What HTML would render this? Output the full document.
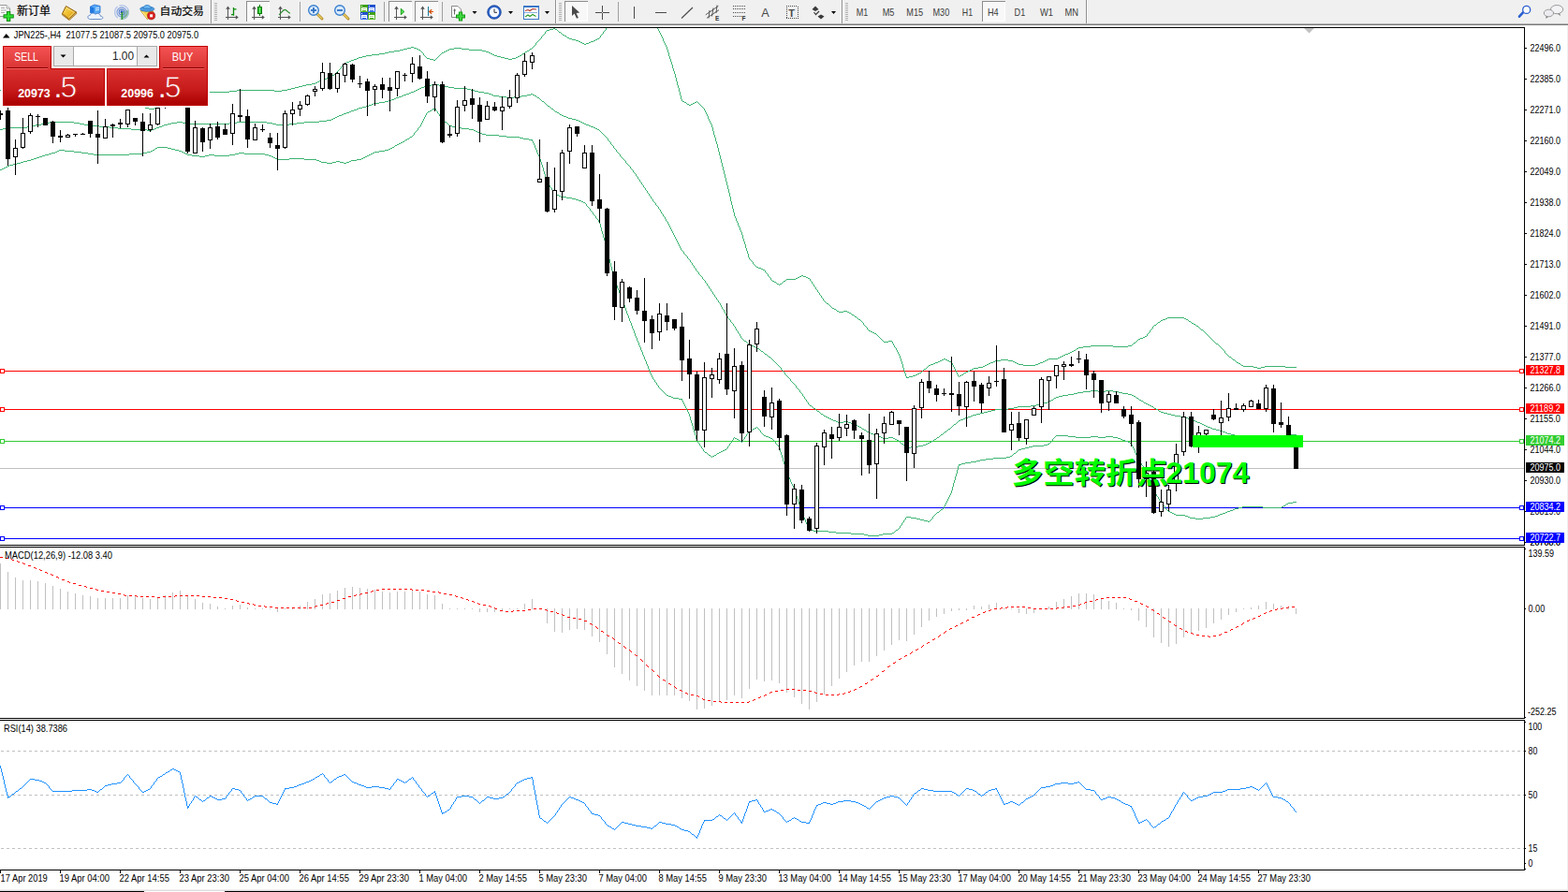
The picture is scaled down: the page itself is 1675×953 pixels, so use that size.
<!DOCTYPE html>
<html><head><meta charset="utf-8"><title>JPN225 H4</title>
<style>
html,body{margin:0;padding:0;background:#fff;width:1675px;height:953px;overflow:hidden}
svg{display:block;position:absolute;left:0;top:0}
text{font-family:"Liberation Sans","Noto Sans CJK SC",sans-serif;white-space:pre}
</style></head><body>
<svg width="1675" height="953" viewBox="0 0 1675 953">
<rect x="0" y="0" width="1675" height="953" fill="#fff" />
<g shape-rendering="crispEdges">
<rect x="0" y="500" width="1628" height="1" fill="#c0c0c0" />
<rect x="0" y="396" width="1628" height="1" fill="#ff0000" />
<rect x="0" y="394" width="5" height="5" fill="#ff0000" />
<rect x="1" y="395" width="3" height="3" fill="#fff" />
<rect x="1623" y="394" width="5" height="5" fill="#ff0000" />
<rect x="1624" y="395" width="3" height="3" fill="#fff" />
<rect x="0" y="437" width="1628" height="1" fill="#ff0000" />
<rect x="0" y="435" width="5" height="5" fill="#ff0000" />
<rect x="1" y="436" width="3" height="3" fill="#fff" />
<rect x="1623" y="435" width="5" height="5" fill="#ff0000" />
<rect x="1624" y="436" width="3" height="3" fill="#fff" />
<rect x="0" y="471" width="1628" height="1" fill="#32cd32" />
<rect x="0" y="469" width="5" height="5" fill="#32cd32" />
<rect x="1" y="470" width="3" height="3" fill="#fff" />
<rect x="1623" y="469" width="5" height="5" fill="#32cd32" />
<rect x="1624" y="470" width="3" height="3" fill="#fff" />
<rect x="0" y="542" width="1628" height="1" fill="#0000ff" />
<rect x="0" y="540" width="5" height="5" fill="#0000ff" />
<rect x="1" y="541" width="3" height="3" fill="#fff" />
<rect x="1623" y="540" width="5" height="5" fill="#0000ff" />
<rect x="1624" y="541" width="3" height="3" fill="#fff" />
<rect x="0" y="575" width="1628" height="1" fill="#0000ff" />
<rect x="0" y="573" width="5" height="5" fill="#0000ff" />
<rect x="1" y="574" width="3" height="3" fill="#fff" />
<rect x="1623" y="573" width="5" height="5" fill="#0000ff" />
<rect x="1624" y="574" width="3" height="3" fill="#fff" />
</g>
<g shape-rendering="crispEdges">
<path d="M461 90.5h8M455 91.5h6M469 91.5h6M453 92.5h2M475 92.5h4M450 93.5h3M479 93.5h6M448 94.5h2M485 94.5h14M446 95.5h2M499 95.5h4M444 96.5h2M503 96.5h4M442 97.5h2M507 97.5h4M439 98.5h3M511 98.5h6M437 99.5h2M517 99.5h5M434 100.5h3M522 100.5h3M567 100.5h2M431 101.5h3M525 101.5h2M563 101.5h4M569 101.5h2M429 102.5h2M527 102.5h6M557 102.5h6M571 102.5h2M426 103.5h3M533 103.5h8M549 103.5h8M573 103.5h1M423 104.5h3M541 104.5h8M574 104.5h2M421 105.5h2M576 105.5h1M418 106.5h3M577 106.5h1M415 107.5h3M578 107.5h1M411 108.5h4M579 108.5h2M405 109.5h6M581 109.5h1M399 110.5h6M582 110.5h1M397 111.5h2M583 111.5h1M394 112.5h3M584 112.5h1M391 113.5h3M585 113.5h2M387 114.5h4M587 114.5h1M383 115.5h4M588 115.5h1M381 116.5h2M589 116.5h2M378 117.5h3M591 117.5h1M375 118.5h3M592 118.5h1M373 119.5h2M593 119.5h2M370 120.5h3M595 120.5h2M367 121.5h3M597 121.5h1M365 122.5h2M598 122.5h2M362 123.5h3M600 123.5h2M360 124.5h2M602 124.5h3M358 125.5h2M605 125.5h2M356 126.5h2M607 126.5h4M354 127.5h2M611 127.5h4M349 128.5h5M615 128.5h3M341 129.5h8M618 129.5h2M53 130.5h26M189 130.5h6M253 130.5h32M325 130.5h16M620 130.5h2M49 131.5h4M79 131.5h6M183 131.5h6M195 131.5h4M245 131.5h8M285 131.5h6M317 131.5h8M622 131.5h2M44 132.5h5M85 132.5h5M179 132.5h4M199 132.5h46M291 132.5h4M309 132.5h8M624 132.5h2M38 133.5h6M90 133.5h7M175 133.5h4M295 133.5h14M626 133.5h3M33 134.5h5M97 134.5h9M173 134.5h2M629 134.5h2M29 135.5h4M106 135.5h11M170 135.5h3M631 135.5h3M9 136.5h20M117 136.5h9M167 136.5h3M634 136.5h2M3 137.5h6M126 137.5h14M165 137.5h2M636 137.5h2M0 138.5h3M140 138.5h17M162 138.5h3M638 138.5h2M157 139.5h5M640 139.5h1M641 140.5h1M642 141.5h1M643 142.5h1M644 143.5h1M645 144.5h1M646 145.5h1M647 146.5h1M648 147.5h1M649 148.5h1M649 149.5h1M650 150.5h1M651 151.5h1M652 152.5h1M652 153.5h1M653 154.5h1M654 155.5h1M655 156.5h1M655 157.5h1M656 158.5h1M657 159.5h1M658 160.5h1M658 161.5h1M659 162.5h1M660 163.5h1M661 164.5h1M662 165.5h1M662 166.5h1M663 167.5h1M664 168.5h1M665 169.5h1M666 170.5h1M667 171.5h1M668 172.5h1M668 173.5h1M669 174.5h1M670 175.5h1M671 176.5h1M672 177.5h1M673 178.5h1M673 179.5h1M674 180.5h1M675 181.5h1M676 182.5h1M676 183.5h1M677 184.5h1M678 185.5h1M679 186.5h1M679 187.5h1M680 188.5h1M681 189.5h1M681 190.5h1M682 191.5h1M683 192.5h1M683 193.5h1M684 194.5h1M685 195.5h1M685 196.5h1M686 197.5h1M687 198.5h1M687 199.5h1M688 200.5h1M689 201.5h1M689 202.5h1M690 203.5h1M691 204.5h1M691 205.5h1M692 206.5h1M693 207.5h1M693 208.5h1M694 209.5h1M695 210.5h1M695 211.5h1M696 212.5h1M697 213.5h1M697 214.5h1M698 215.5h1M699 216.5h1M700 217.5h1M700 218.5h1M701 219.5h1M702 220.5h1M703 221.5h1M703 222.5h1M704 223.5h1M705 224.5h1M705 225.5h1M706 226.5h1M706 227.5h1M707 228.5h1M708 229.5h1M708 230.5h1M709 231.5h1M710 232.5h1M710 233.5h1M711 234.5h1M711 235.5h1M712 236.5h1M713 237.5h1M713 238.5h1M714 239.5h1M714 240.5h1M715 241.5h1M715 242.5h1M716 243.5h1M716 244.5h1M717 245.5h1M717 246.5h1M718 247.5h1M718 248.5h1M719 249.5h1M719 250.5h1M720 251.5h1M720 252.5h1M721 253.5h1M721 254.5h1M722 255.5h1M722 256.5h1M723 257.5h1M723 258.5h1M724 259.5h1M724 260.5h1M725 261.5h1M725 262.5h1M726 263.5h1M726 264.5h1M727 265.5h1M727 266.5h1M728 267.5h1M729 268.5h1M730 269.5h1M730 270.5h1M731 271.5h1M732 272.5h1M733 273.5h1M734 274.5h1M734 275.5h1M735 276.5h1M736 277.5h1M737 278.5h1M737 279.5h1M738 280.5h1M739 281.5h1M739 282.5h1M740 283.5h1M741 284.5h1M741 285.5h1M742 286.5h1M743 287.5h1M743 288.5h1M744 289.5h1M745 290.5h1M746 291.5h1M746 292.5h1M747 293.5h1M748 294.5h1M749 295.5h1M750 296.5h1M750 297.5h1M751 298.5h1M752 299.5h1M753 300.5h1M753 301.5h1M754 302.5h1M755 303.5h1M755 304.5h1M756 305.5h1M757 306.5h1M757 307.5h1M758 308.5h1M759 309.5h1M759 310.5h1M760 311.5h1M761 312.5h1M761 313.5h1M762 314.5h1M763 315.5h1M763 316.5h1M764 317.5h1M765 318.5h1M765 319.5h1M766 320.5h1M767 321.5h1M767 322.5h1M768 323.5h1M769 324.5h1M769 325.5h1M770 326.5h1M770 327.5h1M771 328.5h1M771 329.5h1M772 330.5h1M773 331.5h1M773 332.5h1M774 333.5h1M774 334.5h1M775 335.5h1M775 336.5h1M776 337.5h1M777 338.5h1M777 339.5h1M778 340.5h1M779 341.5h1M780 342.5h1M780 343.5h1M781 344.5h1M782 345.5h1M783 346.5h1M783 347.5h1M784 348.5h1M785 349.5h1M785 350.5h1M786 351.5h1M786 352.5h1M787 353.5h1M788 354.5h1M788 355.5h1M789 356.5h1M790 357.5h1M790 358.5h1M791 359.5h1M791 360.5h1M792 361.5h1M793 362.5h1M794 363.5h1M795 364.5h2M797 365.5h1M798 366.5h1M799 367.5h1M800 368.5h2M802 369.5h3M805 370.5h2M807 371.5h2M809 372.5h2M811 373.5h1M812 374.5h1M813 375.5h2M815 376.5h1M816 377.5h1M817 378.5h2M819 379.5h1M820 380.5h1M821 381.5h2M823 382.5h1M824 383.5h1M825 384.5h1M826 385.5h1M827 386.5h1M828 387.5h1M829 388.5h1M830 389.5h1M831 390.5h1M832 391.5h1M833 392.5h1M834 393.5h1M834 394.5h1M835 395.5h1M836 396.5h1M837 397.5h1M838 398.5h1M838 399.5h1M839 400.5h1M840 401.5h1M841 402.5h1M842 403.5h1M843 404.5h1M844 405.5h1M844 406.5h1M845 407.5h1M846 408.5h1M847 409.5h1M848 410.5h1M849 411.5h1M850 412.5h1M850 413.5h1M851 414.5h1M852 415.5h1M853 416.5h1M854 417.5h1M1165 417.5h8M1181 417.5h8M854 418.5h1M1157 418.5h8M1173 418.5h8M1189 418.5h6M855 419.5h1M1151 419.5h6M1195 419.5h4M856 420.5h1M1147 420.5h4M1199 420.5h6M857 421.5h1M1141 421.5h6M1205 421.5h4M857 422.5h1M1135 422.5h6M1209 422.5h2M858 423.5h1M1131 423.5h4M1211 423.5h2M859 424.5h1M1128 424.5h3M1213 424.5h1M859 425.5h1M1126 425.5h2M1214 425.5h2M860 426.5h1M1125 426.5h1M1216 426.5h1M861 427.5h1M1123 427.5h2M1217 427.5h2M861 428.5h1M1121 428.5h2M1219 428.5h2M862 429.5h1M1119 429.5h2M1221 429.5h1M863 430.5h1M1115 430.5h4M1222 430.5h2M863 431.5h1M1111 431.5h4M1224 431.5h2M864 432.5h1M1107 432.5h4M1226 432.5h2M865 433.5h2M1101 433.5h6M1228 433.5h2M867 434.5h1M1087 434.5h14M1230 434.5h2M868 435.5h1M1083 435.5h4M1232 435.5h1M869 436.5h2M1077 436.5h6M1233 436.5h2M871 437.5h1M1063 437.5h14M1235 437.5h2M872 438.5h1M1059 438.5h4M1237 438.5h1M873 439.5h2M1055 439.5h4M1238 439.5h2M875 440.5h1M1051 440.5h4M1240 440.5h3M876 441.5h1M1047 441.5h4M1243 441.5h4M877 442.5h2M1043 442.5h4M1247 442.5h4M879 443.5h1M1039 443.5h4M1251 443.5h4M880 444.5h2M1037 444.5h2M1255 444.5h6M882 445.5h2M1034 445.5h3M1261 445.5h5M884 446.5h2M1031 446.5h3M1266 446.5h3M886 447.5h2M1029 447.5h2M1269 447.5h2M888 448.5h2M1026 448.5h3M1271 448.5h3M890 449.5h3M1024 449.5h2M1274 449.5h3M893 450.5h2M901 450.5h5M1023 450.5h1M1277 450.5h2M895 451.5h6M906 451.5h3M1022 451.5h1M1279 451.5h3M909 452.5h2M1021 452.5h1M1282 452.5h2M911 453.5h3M1019 453.5h2M1284 453.5h2M914 454.5h2M1018 454.5h1M1286 454.5h2M916 455.5h2M1017 455.5h1M1288 455.5h2M918 456.5h2M1016 456.5h1M1290 456.5h3M920 457.5h1M1015 457.5h1M1293 457.5h2M921 458.5h2M1013 458.5h2M1295 458.5h4M923 459.5h2M1012 459.5h1M1299 459.5h4M925 460.5h1M1011 460.5h1M1303 460.5h3M926 461.5h2M1009 461.5h2M1306 461.5h3M928 462.5h2M1008 462.5h1M1309 462.5h2M930 463.5h3M1007 463.5h1M1311 463.5h4M933 464.5h2M1005 464.5h2M1315 464.5h4M1375 464.5h10M935 465.5h3M1004 465.5h1M1319 465.5h6M1373 465.5h2M938 466.5h3M1003 466.5h1M1325 466.5h16M1349 466.5h16M1370 466.5h3M941 467.5h2M949 467.5h5M1001 467.5h2M1341 467.5h8M1365 467.5h5M943 468.5h6M954 468.5h2M1000 468.5h1M956 469.5h2M998 469.5h2M958 470.5h2M997 470.5h1M960 471.5h1M995 471.5h2M961 472.5h1M993 472.5h2M962 473.5h1M991 473.5h2M963 474.5h2M989 474.5h2M965 475.5h1M986 475.5h3M966 476.5h1M981 476.5h5M967 477.5h1M973 477.5h8M968 478.5h5" stroke="#3cb371" stroke-width="1" fill="none" />
<path d="M591 30.5h2M647 30.5h1M702 30.5h1M587 31.5h4M593 31.5h2M647 31.5h1M703 31.5h1M584 32.5h3M595 32.5h1M646 32.5h1M703 32.5h1M583 33.5h1M596 33.5h1M645 33.5h1M704 33.5h1M582 34.5h1M597 34.5h2M644 34.5h1M704 34.5h1M582 35.5h1M599 35.5h1M644 35.5h1M705 35.5h1M581 36.5h1M600 36.5h1M643 36.5h1M705 36.5h1M580 37.5h1M601 37.5h2M642 37.5h1M706 37.5h1M579 38.5h1M603 38.5h2M641 38.5h1M706 38.5h1M578 39.5h1M605 39.5h1M641 39.5h1M707 39.5h1M578 40.5h1M606 40.5h2M640 40.5h1M707 40.5h1M577 41.5h1M608 41.5h3M638 41.5h2M708 41.5h1M576 42.5h1M611 42.5h4M636 42.5h2M708 42.5h1M575 43.5h1M615 43.5h3M634 43.5h2M708 43.5h1M574 44.5h1M618 44.5h2M631 44.5h3M709 44.5h1M573 45.5h1M620 45.5h2M629 45.5h2M709 45.5h1M572 46.5h1M622 46.5h2M626 46.5h3M710 46.5h1M572 47.5h1M624 47.5h2M710 47.5h1M571 48.5h1M711 48.5h1M570 49.5h1M711 49.5h1M439 50.5h3M569 50.5h1M712 50.5h1M435 51.5h4M442 51.5h3M485 51.5h8M568 51.5h1M712 51.5h1M431 52.5h4M445 52.5h2M480 52.5h5M493 52.5h8M566 52.5h2M712 52.5h1M427 53.5h4M447 53.5h2M478 53.5h2M501 53.5h14M565 53.5h1M713 53.5h1M421 54.5h6M449 54.5h1M476 54.5h2M515 54.5h4M563 54.5h2M713 54.5h1M415 55.5h6M450 55.5h1M474 55.5h2M519 55.5h3M561 55.5h2M713 55.5h1M411 56.5h4M451 56.5h1M472 56.5h2M522 56.5h2M560 56.5h1M714 56.5h1M405 57.5h6M452 57.5h1M471 57.5h1M524 57.5h2M558 57.5h2M714 57.5h1M397 58.5h8M452 58.5h1M470 58.5h1M526 58.5h2M557 58.5h1M714 58.5h1M391 59.5h6M453 59.5h1M469 59.5h1M528 59.5h3M555 59.5h2M714 59.5h1M387 60.5h4M454 60.5h1M468 60.5h1M531 60.5h4M553 60.5h2M715 60.5h1M383 61.5h4M455 61.5h1M467 61.5h1M535 61.5h4M551 61.5h2M715 61.5h1M381 62.5h2M456 62.5h3M466 62.5h1M539 62.5h4M547 62.5h4M715 62.5h1M378 63.5h3M459 63.5h4M465 63.5h1M543 63.5h4M716 63.5h1M375 64.5h3M463 64.5h2M716 64.5h1M373 65.5h2M716 65.5h1M370 66.5h3M717 66.5h1M368 67.5h2M717 67.5h1M367 68.5h1M717 68.5h1M366 69.5h1M718 69.5h1M365 70.5h1M718 70.5h1M364 71.5h1M718 71.5h1M364 72.5h1M718 72.5h1M363 73.5h1M719 73.5h1M362 74.5h1M719 74.5h1M361 75.5h1M719 75.5h1M360 76.5h1M720 76.5h1M359 77.5h1M720 77.5h1M358 78.5h1M720 78.5h1M357 79.5h1M721 79.5h1M355 80.5h2M721 80.5h1M354 81.5h1M721 81.5h1M353 82.5h1M721 82.5h1M349 83.5h4M722 83.5h1M344 84.5h5M722 84.5h1M342 85.5h2M722 85.5h1M341 86.5h1M722 86.5h1M339 87.5h2M723 87.5h1M337 88.5h2M723 88.5h1M333 89.5h4M723 89.5h1M327 90.5h6M723 90.5h1M323 91.5h4M724 91.5h1M319 92.5h4M724 92.5h1M315 93.5h4M724 93.5h1M311 94.5h4M725 94.5h1M307 95.5h4M725 95.5h1M0 96.5h31M253 96.5h40M301 96.5h6M725 96.5h1M31 97.5h75M245 97.5h8M293 97.5h8M725 97.5h1M106 98.5h45M197 98.5h48M726 98.5h1M150 99.5h1M192 99.5h5M726 99.5h1M150 100.5h1M190 100.5h2M726 100.5h1M150 101.5h1M188 101.5h2M726 101.5h1M150 102.5h1M186 102.5h2M727 102.5h1M151 103.5h1M184 103.5h2M727 103.5h1M151 104.5h1M183 104.5h1M727 104.5h1M151 105.5h1M181 105.5h2M727 105.5h1M151 106.5h1M180 106.5h1M728 106.5h1M151 107.5h1M179 107.5h1M728 107.5h1M151 108.5h1M177 108.5h2M729 108.5h2M744 108.5h1M151 109.5h1M176 109.5h1M731 109.5h2M742 109.5h2M745 109.5h1M151 110.5h1M175 110.5h1M733 110.5h1M740 110.5h2M746 110.5h1M152 111.5h1M173 111.5h2M734 111.5h2M738 111.5h2M747 111.5h1M152 112.5h1M172 112.5h1M736 112.5h2M748 112.5h1M152 113.5h1M171 113.5h1M749 113.5h1M152 114.5h3M169 114.5h2M750 114.5h1M155 115.5h4M165 115.5h4M751 115.5h1M159 116.5h6M752 116.5h1M752 117.5h1M753 118.5h1M753 119.5h1M754 120.5h1M754 121.5h1M755 122.5h1M755 123.5h1M756 124.5h1M756 125.5h1M756 126.5h1M757 127.5h1M757 128.5h1M758 129.5h1M758 130.5h1M759 131.5h1M759 132.5h1M760 133.5h1M760 134.5h1M760 135.5h1M761 136.5h1M761 137.5h1M761 138.5h1M761 139.5h1M762 140.5h1M762 141.5h1M762 142.5h1M762 143.5h1M763 144.5h1M763 145.5h1M763 146.5h1M764 147.5h1M764 148.5h1M764 149.5h1M764 150.5h1M765 151.5h1M765 152.5h1M765 153.5h1M766 154.5h1M766 155.5h1M766 156.5h1M766 157.5h1M767 158.5h1M767 159.5h1M767 160.5h1M767 161.5h1M768 162.5h1M768 163.5h1M768 164.5h1M768 165.5h1M769 166.5h1M769 167.5h1M769 168.5h1M769 169.5h1M770 170.5h1M770 171.5h1M770 172.5h1M770 173.5h1M771 174.5h1M771 175.5h1M771 176.5h1M771 177.5h1M772 178.5h1M772 179.5h1M772 180.5h1M772 181.5h1M773 182.5h1M773 183.5h1M773 184.5h1M773 185.5h1M774 186.5h1M774 187.5h1M774 188.5h1M774 189.5h1M775 190.5h1M775 191.5h1M775 192.5h1M775 193.5h1M776 194.5h1M776 195.5h1M776 196.5h1M776 197.5h1M777 198.5h1M777 199.5h1M777 200.5h1M777 201.5h1M778 202.5h1M778 203.5h1M778 204.5h1M778 205.5h1M779 206.5h1M779 207.5h1M779 208.5h1M779 209.5h1M780 210.5h1M780 211.5h1M780 212.5h1M780 213.5h1M780 214.5h1M781 215.5h1M781 216.5h1M781 217.5h1M781 218.5h1M782 219.5h1M782 220.5h1M782 221.5h1M782 222.5h1M783 223.5h1M783 224.5h1M783 225.5h1M783 226.5h1M784 227.5h1M784 228.5h1M784 229.5h1M784 230.5h1M785 231.5h1M785 232.5h1M786 233.5h1M786 234.5h1M786 235.5h1M787 236.5h1M787 237.5h1M788 238.5h1M788 239.5h1M788 240.5h1M789 241.5h1M789 242.5h1M790 243.5h1M790 244.5h1M790 245.5h1M791 246.5h1M791 247.5h1M792 248.5h1M792 249.5h1M792 250.5h1M793 251.5h1M793 252.5h1M793 253.5h1M793 254.5h1M794 255.5h1M794 256.5h1M794 257.5h1M795 258.5h1M795 259.5h1M795 260.5h1M796 261.5h1M796 262.5h1M796 263.5h1M796 264.5h1M797 265.5h1M797 266.5h1M797 267.5h1M798 268.5h1M798 269.5h1M798 270.5h1M799 271.5h1M799 272.5h1M799 273.5h1M799 274.5h1M800 275.5h1M800 276.5h1M801 277.5h1M802 278.5h1M803 279.5h1M804 280.5h1M804 281.5h1M805 282.5h1M806 283.5h1M807 284.5h1M808 285.5h2M810 286.5h3M813 287.5h2M815 288.5h2M817 289.5h1M817 290.5h1M818 291.5h1M819 292.5h1M820 293.5h1M820 294.5h1M856 294.5h2M821 295.5h1M854 295.5h2M858 295.5h3M822 296.5h1M852 296.5h2M861 296.5h2M823 297.5h1M850 297.5h2M863 297.5h2M823 298.5h1M840 298.5h10M865 298.5h1M824 299.5h1M839 299.5h1M865 299.5h1M825 300.5h2M837 300.5h2M866 300.5h1M827 301.5h2M836 301.5h1M867 301.5h1M829 302.5h1M835 302.5h1M867 302.5h1M830 303.5h2M833 303.5h2M868 303.5h1M832 304.5h1M869 304.5h1M869 305.5h1M870 306.5h1M871 307.5h1M871 308.5h1M872 309.5h1M873 310.5h1M873 311.5h1M874 312.5h1M875 313.5h1M875 314.5h1M876 315.5h1M877 316.5h1M877 317.5h1M878 318.5h1M879 319.5h1M879 320.5h1M880 321.5h1M881 322.5h1M882 323.5h1M883 324.5h2M885 325.5h1M886 326.5h1M887 327.5h1M888 328.5h1M889 329.5h2M891 330.5h2M893 331.5h1M894 332.5h2M901 332.5h4M896 333.5h5M905 333.5h2M907 334.5h2M909 335.5h1M910 336.5h2M912 337.5h1M913 338.5h2M915 339.5h1M1247 339.5h18M916 340.5h1M1245 340.5h2M1265 340.5h2M917 341.5h2M1242 341.5h3M1267 341.5h2M919 342.5h1M1240 342.5h2M1269 342.5h1M920 343.5h1M1239 343.5h1M1270 343.5h2M921 344.5h1M1237 344.5h2M1272 344.5h1M922 345.5h1M1236 345.5h1M1273 345.5h2M922 346.5h1M1235 346.5h1M1275 346.5h2M923 347.5h1M1233 347.5h2M1277 347.5h1M924 348.5h1M1232 348.5h1M1278 348.5h2M925 349.5h1M1231 349.5h1M1280 349.5h1M926 350.5h1M1231 350.5h1M1281 350.5h1M926 351.5h1M1230 351.5h1M1282 351.5h1M927 352.5h1M1229 352.5h1M1283 352.5h2M928 353.5h2M1228 353.5h1M1285 353.5h1M930 354.5h2M1228 354.5h1M1286 354.5h1M932 355.5h2M1227 355.5h1M1287 355.5h1M934 356.5h2M1226 356.5h1M1288 356.5h1M936 357.5h1M1225 357.5h1M1289 357.5h1M937 358.5h1M1225 358.5h1M1290 358.5h1M938 359.5h1M1223 359.5h2M1291 359.5h1M939 360.5h1M1221 360.5h2M1292 360.5h1M940 361.5h1M1218 361.5h3M1293 361.5h1M941 362.5h1M1216 362.5h2M1294 362.5h1M942 363.5h1M1215 363.5h1M1295 363.5h1M943 364.5h1M949 364.5h4M1214 364.5h1M1296 364.5h1M944 365.5h5M953 365.5h1M1213 365.5h1M1297 365.5h1M953 366.5h1M1211 366.5h2M1298 366.5h1M954 367.5h1M1210 367.5h1M1299 367.5h2M954 368.5h1M1209 368.5h1M1301 368.5h1M955 369.5h1M1165 369.5h24M1205 369.5h4M1302 369.5h1M955 370.5h1M1157 370.5h8M1189 370.5h16M1303 370.5h1M956 371.5h1M1152 371.5h5M1304 371.5h1M957 372.5h1M1150 372.5h2M1305 372.5h1M957 373.5h1M1149 373.5h1M1306 373.5h1M958 374.5h1M1147 374.5h2M1307 374.5h1M958 375.5h1M1145 375.5h2M1308 375.5h1M959 376.5h1M1143 376.5h2M1308 376.5h1M959 377.5h1M1141 377.5h2M1309 377.5h1M960 378.5h1M1138 378.5h3M1310 378.5h1M960 379.5h1M1136 379.5h2M1311 379.5h1M961 380.5h1M1134 380.5h2M1312 380.5h1M961 381.5h1M1132 381.5h2M1313 381.5h2M961 382.5h1M1130 382.5h2M1315 382.5h1M962 383.5h1M1008 383.5h2M1120 383.5h10M1316 383.5h1M962 384.5h1M1006 384.5h2M1010 384.5h2M1069 384.5h8M1118 384.5h2M1317 384.5h2M962 385.5h1M1004 385.5h2M1012 385.5h2M1063 385.5h6M1077 385.5h5M1116 385.5h2M1319 385.5h1M963 386.5h1M1002 386.5h2M1014 386.5h2M1061 386.5h2M1082 386.5h2M1114 386.5h2M1320 386.5h1M963 387.5h1M999 387.5h3M1016 387.5h1M1058 387.5h3M1084 387.5h2M1111 387.5h3M1321 387.5h2M963 388.5h1M997 388.5h2M1017 388.5h1M1056 388.5h2M1086 388.5h2M1109 388.5h2M1323 388.5h2M964 389.5h1M994 389.5h3M1017 389.5h1M1054 389.5h2M1088 389.5h5M1106 389.5h3M1325 389.5h1M964 390.5h1M992 390.5h2M1018 390.5h1M1052 390.5h2M1093 390.5h13M1326 390.5h2M964 391.5h1M991 391.5h1M1018 391.5h1M1050 391.5h2M1328 391.5h11M1351 391.5h22M964 392.5h1M990 392.5h1M1019 392.5h1M1045 392.5h5M1339 392.5h4M1347 392.5h4M1373 392.5h12M965 393.5h1M989 393.5h1M1019 393.5h1M1040 393.5h5M1343 393.5h4M965 394.5h1M987 394.5h2M1020 394.5h1M1038 394.5h2M965 395.5h1M986 395.5h1M1020 395.5h1M1036 395.5h2M966 396.5h1M985 396.5h1M1021 396.5h1M1034 396.5h2M966 397.5h1M984 397.5h1M1021 397.5h1M1032 397.5h2M966 398.5h1M982 398.5h2M1022 398.5h1M1030 398.5h2M967 399.5h1M980 399.5h2M1022 399.5h1M1029 399.5h1M967 400.5h1M978 400.5h2M1023 400.5h1M1027 400.5h2M967 401.5h1M975 401.5h3M1023 401.5h1M1025 401.5h2M968 402.5h1M971 402.5h4M1024 402.5h1M968 403.5h3" stroke="#3cb371" stroke-width="1" fill="none" />
<path d="M464 115.5h1M462 116.5h2M465 116.5h1M461 117.5h1M465 117.5h1M459 118.5h2M466 118.5h1M457 119.5h2M467 119.5h1M456 120.5h1M467 120.5h1M455 121.5h1M468 121.5h1M455 122.5h1M469 122.5h1M454 123.5h1M469 123.5h1M454 124.5h1M470 124.5h1M453 125.5h1M471 125.5h1M453 126.5h1M471 126.5h1M452 127.5h1M472 127.5h1M452 128.5h1M473 128.5h1M451 129.5h1M474 129.5h1M451 130.5h1M475 130.5h2M450 131.5h1M477 131.5h1M450 132.5h1M478 132.5h1M449 133.5h1M479 133.5h1M449 134.5h1M480 134.5h3M448 135.5h1M483 135.5h4M447 136.5h1M487 136.5h6M446 137.5h1M493 137.5h8M446 138.5h1M501 138.5h5M445 139.5h1M506 139.5h2M444 140.5h1M508 140.5h2M443 141.5h1M510 141.5h2M442 142.5h1M512 142.5h3M442 143.5h1M515 143.5h4M441 144.5h1M519 144.5h14M440 145.5h1M533 145.5h8M438 146.5h2M541 146.5h14M437 147.5h1M555 147.5h4M435 148.5h2M559 148.5h6M433 149.5h2M565 149.5h4M432 150.5h1M568 150.5h1M430 151.5h2M569 151.5h1M428 152.5h2M569 152.5h1M426 153.5h2M570 153.5h1M424 154.5h2M570 154.5h1M422 155.5h2M571 155.5h1M421 156.5h1M571 156.5h1M168 157.5h11M419 157.5h2M571 157.5h1M166 158.5h2M179 158.5h4M417 158.5h2M572 158.5h1M165 159.5h1M183 159.5h4M415 159.5h2M572 159.5h1M63 160.5h6M163 160.5h2M187 160.5h4M411 160.5h4M573 160.5h1M61 161.5h2M69 161.5h10M161 161.5h2M191 161.5h3M405 161.5h6M573 161.5h1M59 162.5h2M79 162.5h8M157 162.5h4M194 162.5h2M400 162.5h5M573 162.5h1M55 163.5h4M87 163.5h7M152 163.5h5M196 163.5h2M255 163.5h6M398 163.5h2M574 163.5h1M52 164.5h3M94 164.5h6M138 164.5h14M198 164.5h2M251 164.5h4M261 164.5h22M396 164.5h2M574 164.5h1M48 165.5h4M100 165.5h38M200 165.5h5M223 165.5h6M245 165.5h6M283 165.5h4M394 165.5h2M575 165.5h1M45 166.5h3M205 166.5h8M219 166.5h4M229 166.5h16M287 166.5h3M392 166.5h2M575 166.5h1M42 167.5h3M213 167.5h6M290 167.5h2M390 167.5h2M576 167.5h1M39 168.5h3M292 168.5h2M388 168.5h2M576 168.5h1M36 169.5h3M294 169.5h2M309 169.5h16M386 169.5h2M576 169.5h1M33 170.5h3M296 170.5h13M325 170.5h13M381 170.5h5M577 170.5h1M29 171.5h4M338 171.5h3M375 171.5h6M577 171.5h1M25 172.5h4M341 172.5h2M359 172.5h4M373 172.5h2M577 172.5h1M22 173.5h3M343 173.5h6M355 173.5h4M363 173.5h4M370 173.5h3M578 173.5h1M18 174.5h4M349 174.5h6M367 174.5h3M578 174.5h1M14 175.5h4M578 175.5h1M10 176.5h4M579 176.5h1M8 177.5h2M579 177.5h1M6 178.5h2M579 178.5h1M4 179.5h2M580 179.5h1M2 180.5h2M580 180.5h1M0 181.5h2M580 181.5h1M580 182.5h1M581 183.5h1M581 184.5h1M581 185.5h1M582 186.5h1M582 187.5h1M582 188.5h1M583 189.5h1M583 190.5h1M583 191.5h1M584 192.5h1M584 193.5h1M585 194.5h1M585 195.5h1M586 196.5h1M586 197.5h1M587 198.5h1M587 199.5h1M588 200.5h1M589 201.5h1M589 202.5h1M590 203.5h1M590 204.5h1M591 205.5h1M591 206.5h1M592 207.5h2M594 208.5h3M597 209.5h2M599 210.5h6M605 211.5h6M611 212.5h4M615 213.5h3M618 214.5h3M621 215.5h2M623 216.5h2M625 217.5h1M626 218.5h1M626 219.5h1M627 220.5h1M628 221.5h1M629 222.5h1M630 223.5h1M630 224.5h1M631 225.5h1M632 226.5h1M633 227.5h1M633 228.5h1M634 229.5h1M635 230.5h1M636 231.5h1M636 232.5h1M637 233.5h1M638 234.5h1M639 235.5h1M639 236.5h1M640 237.5h1M640 238.5h1M641 239.5h1M641 240.5h1M641 241.5h1M641 242.5h1M642 243.5h1M642 244.5h1M642 245.5h1M642 246.5h1M643 247.5h1M643 248.5h1M643 249.5h1M644 250.5h1M644 251.5h1M644 252.5h1M644 253.5h1M645 254.5h1M645 255.5h1M645 256.5h1M646 257.5h1M646 258.5h1M646 259.5h1M646 260.5h1M647 261.5h1M647 262.5h1M647 263.5h1M647 264.5h1M648 265.5h1M648 266.5h1M648 267.5h1M648 268.5h1M649 269.5h1M649 270.5h1M649 271.5h1M649 272.5h1M650 273.5h1M650 274.5h1M650 275.5h1M650 276.5h1M651 277.5h1M651 278.5h1M651 279.5h1M651 280.5h1M652 281.5h1M652 282.5h1M652 283.5h1M652 284.5h1M653 285.5h1M653 286.5h1M653 287.5h1M653 288.5h1M654 289.5h1M654 290.5h1M654 291.5h1M654 292.5h1M655 293.5h1M655 294.5h1M655 295.5h1M655 296.5h1M656 297.5h1M656 298.5h1M656 299.5h1M657 300.5h1M657 301.5h1M658 302.5h1M658 303.5h1M658 304.5h1M659 305.5h1M659 306.5h1M659 307.5h1M660 308.5h1M660 309.5h1M661 310.5h1M661 311.5h1M661 312.5h1M662 313.5h1M662 314.5h1M662 315.5h1M663 316.5h1M663 317.5h1M664 318.5h1M664 319.5h1M664 320.5h1M665 321.5h1M665 322.5h1M665 323.5h1M666 324.5h1M666 325.5h1M667 326.5h1M667 327.5h1M667 328.5h1M668 329.5h1M668 330.5h1M668 331.5h1M669 332.5h1M669 333.5h1M669 334.5h1M670 335.5h1M670 336.5h1M671 337.5h1M671 338.5h1M671 339.5h1M672 340.5h1M672 341.5h1M672 342.5h1M673 343.5h1M673 344.5h1M674 345.5h1M674 346.5h1M674 347.5h1M675 348.5h1M675 349.5h1M675 350.5h1M676 351.5h1M676 352.5h1M677 353.5h1M677 354.5h1M677 355.5h1M678 356.5h1M678 357.5h1M678 358.5h1M679 359.5h1M679 360.5h1M680 361.5h1M680 362.5h1M680 363.5h1M681 364.5h1M681 365.5h1M682 366.5h1M682 367.5h1M682 368.5h1M683 369.5h1M683 370.5h1M684 371.5h1M684 372.5h1M684 373.5h1M685 374.5h1M685 375.5h1M686 376.5h1M686 377.5h1M686 378.5h1M687 379.5h1M687 380.5h1M688 381.5h1M688 382.5h1M688 383.5h1M689 384.5h1M689 385.5h1M690 386.5h1M690 387.5h1M690 388.5h1M691 389.5h1M691 390.5h1M692 391.5h1M692 392.5h1M692 393.5h1M693 394.5h1M693 395.5h1M694 396.5h1M694 397.5h1M694 398.5h1M695 399.5h1M695 400.5h1M696 401.5h1M696 402.5h1M697 403.5h1M697 404.5h1M698 405.5h1M699 406.5h1M699 407.5h1M700 408.5h1M701 409.5h1M701 410.5h1M702 411.5h1M703 412.5h1M703 413.5h1M704 414.5h1M705 415.5h1M706 416.5h1M707 417.5h1M708 418.5h1M709 419.5h1M710 420.5h1M711 421.5h1M712 422.5h2M714 423.5h3M717 424.5h2M719 425.5h6M725 426.5h4M728 427.5h1M729 428.5h1M729 429.5h1M730 430.5h1M730 431.5h1M731 432.5h1M731 433.5h1M732 434.5h1M732 435.5h1M733 436.5h1M733 437.5h1M734 438.5h1M734 439.5h1M735 440.5h1M735 441.5h1M736 442.5h1M736 443.5h1M736 444.5h1M737 445.5h1M737 446.5h1M737 447.5h1M737 448.5h1M738 449.5h1M738 450.5h1M738 451.5h1M739 452.5h1M739 453.5h1M739 454.5h1M740 455.5h1M740 456.5h1M808 456.5h1M740 457.5h1M806 457.5h2M809 457.5h1M740 458.5h1M804 458.5h2M810 458.5h1M741 459.5h1M802 459.5h2M811 459.5h1M741 460.5h1M800 460.5h2M812 460.5h1M741 461.5h1M799 461.5h1M812 461.5h1M742 462.5h1M799 462.5h1M813 462.5h1M742 463.5h1M798 463.5h1M814 463.5h1M742 464.5h1M797 464.5h1M815 464.5h1M743 465.5h1M797 465.5h1M816 465.5h2M1128 465.5h13M743 466.5h1M796 466.5h1M818 466.5h3M1127 466.5h1M1141 466.5h8M1165 466.5h8M1181 466.5h8M743 467.5h1M784 467.5h1M795 467.5h1M821 467.5h2M1126 467.5h1M1149 467.5h16M1173 467.5h8M1189 467.5h5M743 468.5h1M783 468.5h1M785 468.5h2M795 468.5h1M823 468.5h2M1125 468.5h1M1194 468.5h3M744 469.5h1M783 469.5h1M787 469.5h2M794 469.5h1M825 469.5h1M1124 469.5h1M1197 469.5h2M744 470.5h1M782 470.5h1M789 470.5h1M793 470.5h1M826 470.5h1M1124 470.5h1M1199 470.5h3M745 471.5h1M781 471.5h1M790 471.5h2M793 471.5h1M827 471.5h1M1123 471.5h1M1202 471.5h3M745 472.5h1M781 472.5h1M792 472.5h1M828 472.5h1M1122 472.5h1M1205 472.5h2M746 473.5h1M780 473.5h1M828 473.5h1M1121 473.5h1M1207 473.5h2M747 474.5h1M779 474.5h1M829 474.5h1M1119 474.5h2M1208 474.5h1M747 475.5h1M779 475.5h1M830 475.5h1M1115 475.5h4M1209 475.5h1M748 476.5h1M778 476.5h1M831 476.5h1M1103 476.5h12M1209 476.5h1M749 477.5h1M777 477.5h1M832 477.5h1M1099 477.5h4M1210 477.5h1M749 478.5h1M777 478.5h1M832 478.5h1M1095 478.5h4M1210 478.5h1M750 479.5h1M776 479.5h1M833 479.5h1M1091 479.5h4M1211 479.5h1M751 480.5h1M774 480.5h2M833 480.5h1M1088 480.5h3M1211 480.5h1M751 481.5h1M772 481.5h2M833 481.5h1M1087 481.5h1M1212 481.5h1M752 482.5h1M770 482.5h2M833 482.5h1M1086 482.5h1M1212 482.5h1M753 483.5h2M768 483.5h2M834 483.5h1M1085 483.5h1M1212 483.5h1M755 484.5h1M766 484.5h2M834 484.5h1M1083 484.5h2M1213 484.5h1M756 485.5h1M765 485.5h1M834 485.5h1M1082 485.5h1M1213 485.5h1M757 486.5h2M763 486.5h2M835 486.5h1M1081 486.5h1M1214 486.5h1M759 487.5h1M761 487.5h2M835 487.5h1M1079 487.5h2M1214 487.5h1M760 488.5h1M835 488.5h1M1075 488.5h4M1215 488.5h1M836 489.5h1M1061 489.5h14M1215 489.5h1M836 490.5h1M1053 490.5h8M1216 490.5h1M836 491.5h1M1047 491.5h6M1216 491.5h1M836 492.5h1M1043 492.5h4M1217 492.5h1M837 493.5h1M1037 493.5h6M1217 493.5h1M837 494.5h1M1031 494.5h6M1218 494.5h1M837 495.5h1M1027 495.5h4M1219 495.5h1M838 496.5h1M1024 496.5h3M1219 496.5h1M838 497.5h1M1024 497.5h1M1220 497.5h1M838 498.5h1M1023 498.5h1M1221 498.5h1M839 499.5h1M1023 499.5h1M1221 499.5h1M839 500.5h1M1023 500.5h1M1222 500.5h1M839 501.5h1M1023 501.5h1M1223 501.5h1M839 502.5h1M1022 502.5h1M1223 502.5h1M840 503.5h1M1022 503.5h1M1224 503.5h1M840 504.5h1M1022 504.5h1M1224 504.5h1M840 505.5h1M1022 505.5h1M1225 505.5h1M841 506.5h1M1021 506.5h1M1225 506.5h1M841 507.5h1M1021 507.5h1M1226 507.5h1M842 508.5h1M1021 508.5h1M1226 508.5h1M842 509.5h1M1020 509.5h1M1226 509.5h1M843 510.5h1M1020 510.5h1M1227 510.5h1M843 511.5h1M1020 511.5h1M1227 511.5h1M844 512.5h1M1020 512.5h1M1228 512.5h1M844 513.5h1M1019 513.5h1M1228 513.5h1M844 514.5h1M1019 514.5h1M1228 514.5h1M845 515.5h1M1019 515.5h1M1229 515.5h1M845 516.5h1M1018 516.5h1M1229 516.5h1M846 517.5h1M1018 517.5h1M1230 517.5h1M846 518.5h1M1018 518.5h1M1230 518.5h1M847 519.5h1M1018 519.5h1M1230 519.5h1M847 520.5h1M1017 520.5h1M1231 520.5h1M848 521.5h1M1017 521.5h1M1231 521.5h1M848 522.5h1M1017 522.5h1M1232 522.5h1M848 523.5h1M1017 523.5h1M1232 523.5h1M849 524.5h1M1016 524.5h1M1233 524.5h1M849 525.5h1M1016 525.5h1M1233 525.5h1M849 526.5h1M1016 526.5h1M1234 526.5h1M850 527.5h1M1015 527.5h1M1234 527.5h1M850 528.5h1M1015 528.5h1M1235 528.5h1M850 529.5h1M1014 529.5h1M1235 529.5h1M851 530.5h1M1014 530.5h1M1236 530.5h1M851 531.5h1M1013 531.5h1M1237 531.5h1M851 532.5h1M1013 532.5h1M1237 532.5h1M852 533.5h1M1012 533.5h1M1238 533.5h1M852 534.5h1M1012 534.5h1M1238 534.5h1M852 535.5h1M1011 535.5h1M1239 535.5h1M853 536.5h1M1011 536.5h1M1239 536.5h1M1381 536.5h4M853 537.5h1M1010 537.5h1M1240 537.5h1M1376 537.5h5M853 538.5h1M1010 538.5h1M1241 538.5h1M1374 538.5h2M854 539.5h1M1009 539.5h1M1242 539.5h1M1373 539.5h1M854 540.5h1M1009 540.5h1M1243 540.5h1M1371 540.5h2M854 541.5h1M1008 541.5h1M1244 541.5h1M1327 541.5h22M1369 541.5h2M855 542.5h1M1008 542.5h1M1244 542.5h1M1323 542.5h4M1349 542.5h20M855 543.5h1M1007 543.5h1M1245 543.5h1M1319 543.5h4M855 544.5h1M1005 544.5h2M1246 544.5h1M1317 544.5h2M856 545.5h1M1004 545.5h1M1247 545.5h1M1314 545.5h3M856 546.5h1M1003 546.5h1M1248 546.5h2M1311 546.5h3M856 547.5h1M1001 547.5h2M1250 547.5h2M1309 547.5h2M857 548.5h1M1000 548.5h1M1252 548.5h2M1306 548.5h3M857 549.5h1M999 549.5h1M1254 549.5h2M1303 549.5h3M858 550.5h1M998 550.5h1M1256 550.5h10M1301 550.5h2M858 551.5h1M997 551.5h1M1266 551.5h3M1298 551.5h3M858 552.5h1M968 552.5h5M996 552.5h1M1269 552.5h2M1293 552.5h5M859 553.5h1M967 553.5h1M973 553.5h6M996 553.5h1M1271 553.5h6M1285 553.5h8M859 554.5h1M967 554.5h1M979 554.5h4M995 554.5h1M1277 554.5h8M860 555.5h1M966 555.5h1M983 555.5h4M994 555.5h1M860 556.5h1M965 556.5h1M987 556.5h4M993 556.5h1M860 557.5h1M965 557.5h1M991 557.5h2M861 558.5h1M964 558.5h1M861 559.5h1M963 559.5h1M862 560.5h1M963 560.5h1M862 561.5h1M962 561.5h1M862 562.5h1M961 562.5h1M863 563.5h1M961 563.5h1M863 564.5h1M960 564.5h1M864 565.5h1M959 565.5h1M864 566.5h5M957 566.5h2M869 567.5h16M956 567.5h1M885 568.5h8M955 568.5h1M893 569.5h16M953 569.5h2M909 570.5h14M943 570.5h10M923 571.5h4M939 571.5h4M927 572.5h12" stroke="#3cb371" stroke-width="1" fill="none" />
<rect x="0" y="118" width="1" height="10" fill="#000" />
<rect x="0" y="121" width="3" height="2" fill="#000" />
<rect x="8" y="115" width="1" height="62" fill="#000" />
<rect x="6" y="118" width="5" height="52" fill="#000" />
<rect x="16" y="149" width="1" height="38" fill="#000" />
<rect x="14" y="158" width="5" height="10" fill="#000" />
<rect x="15" y="159" width="3" height="8" fill="#fff" />
<rect x="24" y="126" width="1" height="33" fill="#000" />
<rect x="22" y="142" width="5" height="16" fill="#000" />
<rect x="23" y="143" width="3" height="14" fill="#fff" />
<rect x="32" y="121" width="1" height="22" fill="#000" />
<rect x="30" y="123" width="5" height="18" fill="#000" />
<rect x="31" y="124" width="3" height="16" fill="#fff" />
<rect x="40" y="122" width="1" height="14" fill="#000" />
<rect x="38" y="124" width="5" height="1" fill="#000" />
<rect x="48" y="126" width="1" height="8" fill="#000" />
<rect x="46" y="126" width="5" height="8" fill="#000" />
<rect x="56" y="129" width="1" height="24" fill="#000" />
<rect x="54" y="130" width="5" height="16" fill="#000" />
<rect x="64" y="139" width="1" height="13" fill="#000" />
<rect x="62" y="145" width="5" height="2" fill="#000" />
<rect x="72" y="143" width="1" height="4" fill="#000" />
<rect x="70" y="144" width="5" height="3" fill="#000" />
<rect x="71" y="145" width="3" height="1" fill="#fff" />
<rect x="80" y="143" width="1" height="3" fill="#000" />
<rect x="78" y="143" width="5" height="1" fill="#000" />
<rect x="88" y="142" width="1" height="2" fill="#000" />
<rect x="86" y="143" width="5" height="1" fill="#000" />
<rect x="96" y="129" width="1" height="18" fill="#000" />
<rect x="94" y="129" width="5" height="14" fill="#000" />
<rect x="104" y="118" width="1" height="57" fill="#000" />
<rect x="102" y="143" width="5" height="4" fill="#000" />
<rect x="112" y="127" width="1" height="21" fill="#000" />
<rect x="110" y="135" width="5" height="13" fill="#000" />
<rect x="111" y="136" width="3" height="11" fill="#fff" />
<rect x="120" y="132" width="1" height="15" fill="#000" />
<rect x="118" y="133" width="5" height="2" fill="#000" />
<rect x="128" y="127" width="1" height="10" fill="#000" />
<rect x="126" y="131" width="5" height="2" fill="#000" />
<rect x="136" y="117" width="1" height="19" fill="#000" />
<rect x="134" y="117" width="5" height="16" fill="#000" />
<rect x="135" y="118" width="3" height="14" fill="#fff" />
<rect x="144" y="126" width="1" height="8" fill="#000" />
<rect x="142" y="126" width="5" height="4" fill="#000" />
<rect x="152" y="121" width="1" height="46" fill="#000" />
<rect x="150" y="130" width="5" height="10" fill="#000" />
<rect x="160" y="121" width="1" height="20" fill="#000" />
<rect x="158" y="133" width="5" height="6" fill="#000" />
<rect x="159" y="134" width="3" height="4" fill="#fff" />
<rect x="168" y="115" width="1" height="19" fill="#000" />
<rect x="166" y="115" width="5" height="18" fill="#000" />
<rect x="167" y="116" width="3" height="16" fill="#fff" />
<rect x="176" y="98" width="1" height="18" fill="#000" />
<rect x="174" y="99" width="5" height="16" fill="#000" />
<rect x="175" y="100" width="3" height="14" fill="#fff" />
<rect x="184" y="98" width="1" height="3" fill="#000" />
<rect x="182" y="99" width="5" height="1" fill="#000" />
<rect x="192" y="99" width="1" height="2" fill="#000" />
<rect x="190" y="100" width="5" height="1" fill="#000" />
<rect x="200" y="114" width="1" height="50" fill="#000" />
<rect x="198" y="115" width="5" height="47" fill="#000" />
<rect x="208" y="129" width="1" height="35" fill="#000" />
<rect x="206" y="136" width="5" height="28" fill="#000" />
<rect x="207" y="137" width="3" height="26" fill="#fff" />
<rect x="216" y="136" width="1" height="26" fill="#000" />
<rect x="214" y="137" width="5" height="15" fill="#000" />
<rect x="224" y="132" width="1" height="27" fill="#000" />
<rect x="222" y="136" width="5" height="14" fill="#000" />
<rect x="223" y="137" width="3" height="12" fill="#fff" />
<rect x="232" y="130" width="1" height="19" fill="#000" />
<rect x="230" y="135" width="5" height="12" fill="#000" />
<rect x="240" y="132" width="1" height="12" fill="#000" />
<rect x="238" y="138" width="5" height="6" fill="#000" />
<rect x="248" y="111" width="1" height="44" fill="#000" />
<rect x="246" y="121" width="5" height="22" fill="#000" />
<rect x="247" y="122" width="3" height="20" fill="#fff" />
<rect x="256" y="95" width="1" height="35" fill="#000" />
<rect x="254" y="123" width="5" height="2" fill="#000" />
<rect x="264" y="117" width="1" height="41" fill="#000" />
<rect x="262" y="124" width="5" height="25" fill="#000" />
<rect x="272" y="132" width="1" height="18" fill="#000" />
<rect x="270" y="136" width="5" height="14" fill="#000" />
<rect x="271" y="137" width="3" height="12" fill="#fff" />
<rect x="280" y="133" width="1" height="8" fill="#000" />
<rect x="278" y="138" width="5" height="1" fill="#000" />
<rect x="288" y="142" width="1" height="16" fill="#000" />
<rect x="286" y="147" width="5" height="6" fill="#000" />
<rect x="296" y="142" width="1" height="40" fill="#000" />
<rect x="294" y="155" width="5" height="4" fill="#000" />
<rect x="304" y="118" width="1" height="41" fill="#000" />
<rect x="302" y="121" width="5" height="37" fill="#000" />
<rect x="303" y="122" width="3" height="35" fill="#fff" />
<rect x="312" y="109" width="1" height="25" fill="#000" />
<rect x="310" y="117" width="5" height="5" fill="#000" />
<rect x="311" y="118" width="3" height="3" fill="#fff" />
<rect x="320" y="108" width="1" height="16" fill="#000" />
<rect x="318" y="112" width="5" height="5" fill="#000" />
<rect x="319" y="113" width="3" height="3" fill="#fff" />
<rect x="328" y="101" width="1" height="12" fill="#000" />
<rect x="326" y="102" width="5" height="10" fill="#000" />
<rect x="327" y="103" width="3" height="8" fill="#fff" />
<rect x="336" y="92" width="1" height="11" fill="#000" />
<rect x="334" y="95" width="5" height="3" fill="#000" />
<rect x="335" y="96" width="3" height="1" fill="#fff" />
<rect x="344" y="67" width="1" height="30" fill="#000" />
<rect x="342" y="77" width="5" height="18" fill="#000" />
<rect x="343" y="78" width="3" height="16" fill="#fff" />
<rect x="352" y="67" width="1" height="29" fill="#000" />
<rect x="350" y="78" width="5" height="17" fill="#000" />
<rect x="360" y="77" width="1" height="22" fill="#000" />
<rect x="358" y="78" width="5" height="17" fill="#000" />
<rect x="359" y="79" width="3" height="15" fill="#fff" />
<rect x="368" y="67" width="1" height="21" fill="#000" />
<rect x="366" y="68" width="5" height="13" fill="#000" />
<rect x="367" y="69" width="3" height="11" fill="#fff" />
<rect x="376" y="68" width="1" height="20" fill="#000" />
<rect x="374" y="69" width="5" height="16" fill="#000" />
<rect x="384" y="81" width="1" height="13" fill="#000" />
<rect x="382" y="89" width="5" height="1" fill="#000" />
<rect x="392" y="84" width="1" height="40" fill="#000" />
<rect x="390" y="87" width="5" height="10" fill="#000" />
<rect x="400" y="90" width="1" height="23" fill="#000" />
<rect x="398" y="92" width="5" height="4" fill="#000" />
<rect x="399" y="93" width="3" height="2" fill="#fff" />
<rect x="408" y="83" width="1" height="22" fill="#000" />
<rect x="406" y="90" width="5" height="6" fill="#000" />
<rect x="416" y="83" width="1" height="36" fill="#000" />
<rect x="414" y="93" width="5" height="4" fill="#000" />
<rect x="424" y="76" width="1" height="27" fill="#000" />
<rect x="422" y="76" width="5" height="19" fill="#000" />
<rect x="423" y="77" width="3" height="17" fill="#fff" />
<rect x="432" y="78" width="1" height="9" fill="#000" />
<rect x="430" y="80" width="5" height="1" fill="#000" />
<rect x="440" y="61" width="1" height="27" fill="#000" />
<rect x="438" y="68" width="5" height="11" fill="#000" />
<rect x="439" y="69" width="3" height="9" fill="#fff" />
<rect x="448" y="59" width="1" height="26" fill="#000" />
<rect x="446" y="71" width="5" height="13" fill="#000" />
<rect x="456" y="76" width="1" height="34" fill="#000" />
<rect x="454" y="84" width="5" height="19" fill="#000" />
<rect x="464" y="87" width="1" height="32" fill="#000" />
<rect x="462" y="90" width="5" height="14" fill="#000" />
<rect x="463" y="91" width="3" height="12" fill="#fff" />
<rect x="472" y="87" width="1" height="66" fill="#000" />
<rect x="470" y="90" width="5" height="62" fill="#000" />
<rect x="480" y="134" width="1" height="13" fill="#000" />
<rect x="478" y="143" width="5" height="2" fill="#000" />
<rect x="488" y="107" width="1" height="39" fill="#000" />
<rect x="486" y="114" width="5" height="29" fill="#000" />
<rect x="487" y="115" width="3" height="27" fill="#fff" />
<rect x="496" y="92" width="1" height="27" fill="#000" />
<rect x="494" y="107" width="5" height="6" fill="#000" />
<rect x="495" y="108" width="3" height="4" fill="#fff" />
<rect x="504" y="95" width="1" height="32" fill="#000" />
<rect x="502" y="105" width="5" height="7" fill="#000" />
<rect x="512" y="104" width="1" height="48" fill="#000" />
<rect x="510" y="112" width="5" height="18" fill="#000" />
<rect x="520" y="108" width="1" height="20" fill="#000" />
<rect x="518" y="113" width="5" height="15" fill="#000" />
<rect x="519" y="114" width="3" height="13" fill="#fff" />
<rect x="528" y="109" width="1" height="10" fill="#000" />
<rect x="526" y="114" width="5" height="4" fill="#000" />
<rect x="536" y="103" width="1" height="36" fill="#000" />
<rect x="534" y="114" width="5" height="5" fill="#000" />
<rect x="535" y="115" width="3" height="3" fill="#fff" />
<rect x="544" y="96" width="1" height="20" fill="#000" />
<rect x="542" y="104" width="5" height="10" fill="#000" />
<rect x="543" y="105" width="3" height="8" fill="#fff" />
<rect x="552" y="78" width="1" height="32" fill="#000" />
<rect x="550" y="80" width="5" height="25" fill="#000" />
<rect x="551" y="81" width="3" height="23" fill="#fff" />
<rect x="560" y="57" width="1" height="25" fill="#000" />
<rect x="558" y="65" width="5" height="15" fill="#000" />
<rect x="559" y="66" width="3" height="13" fill="#fff" />
<rect x="568" y="56" width="1" height="18" fill="#000" />
<rect x="566" y="59" width="5" height="8" fill="#000" />
<rect x="567" y="60" width="3" height="6" fill="#fff" />
<rect x="576" y="149" width="1" height="46" fill="#000" />
<rect x="574" y="191" width="5" height="4" fill="#000" />
<rect x="575" y="192" width="3" height="2" fill="#fff" />
<rect x="584" y="173" width="1" height="54" fill="#000" />
<rect x="582" y="189" width="5" height="37" fill="#000" />
<rect x="592" y="179" width="1" height="48" fill="#000" />
<rect x="590" y="203" width="5" height="21" fill="#000" />
<rect x="591" y="204" width="3" height="19" fill="#fff" />
<rect x="600" y="160" width="1" height="54" fill="#000" />
<rect x="598" y="163" width="5" height="42" fill="#000" />
<rect x="599" y="164" width="3" height="40" fill="#fff" />
<rect x="608" y="133" width="1" height="42" fill="#000" />
<rect x="606" y="136" width="5" height="26" fill="#000" />
<rect x="607" y="137" width="3" height="24" fill="#fff" />
<rect x="616" y="135" width="1" height="11" fill="#000" />
<rect x="614" y="135" width="5" height="8" fill="#000" />
<rect x="624" y="155" width="1" height="25" fill="#000" />
<rect x="622" y="163" width="5" height="17" fill="#000" />
<rect x="623" y="164" width="3" height="15" fill="#fff" />
<rect x="632" y="155" width="1" height="65" fill="#000" />
<rect x="630" y="163" width="5" height="52" fill="#000" />
<rect x="640" y="186" width="1" height="52" fill="#000" />
<rect x="638" y="213" width="5" height="10" fill="#000" />
<rect x="648" y="222" width="1" height="73" fill="#000" />
<rect x="646" y="223" width="5" height="69" fill="#000" />
<rect x="656" y="279" width="1" height="63" fill="#000" />
<rect x="654" y="290" width="5" height="38" fill="#000" />
<rect x="664" y="298" width="1" height="46" fill="#000" />
<rect x="662" y="301" width="5" height="28" fill="#000" />
<rect x="663" y="302" width="3" height="26" fill="#fff" />
<rect x="672" y="306" width="1" height="17" fill="#000" />
<rect x="670" y="307" width="5" height="12" fill="#000" />
<rect x="680" y="310" width="1" height="26" fill="#000" />
<rect x="678" y="318" width="5" height="14" fill="#000" />
<rect x="688" y="297" width="1" height="69" fill="#000" />
<rect x="686" y="332" width="5" height="11" fill="#000" />
<rect x="696" y="337" width="1" height="36" fill="#000" />
<rect x="694" y="341" width="5" height="15" fill="#000" />
<rect x="704" y="324" width="1" height="40" fill="#000" />
<rect x="702" y="335" width="5" height="20" fill="#000" />
<rect x="703" y="336" width="3" height="18" fill="#fff" />
<rect x="712" y="324" width="1" height="29" fill="#000" />
<rect x="710" y="337" width="5" height="7" fill="#000" />
<rect x="720" y="341" width="1" height="12" fill="#000" />
<rect x="718" y="341" width="5" height="10" fill="#000" />
<rect x="728" y="334" width="1" height="73" fill="#000" />
<rect x="726" y="349" width="5" height="36" fill="#000" />
<rect x="736" y="363" width="1" height="63" fill="#000" />
<rect x="734" y="383" width="5" height="17" fill="#000" />
<rect x="744" y="397" width="1" height="74" fill="#000" />
<rect x="742" y="400" width="5" height="60" fill="#000" />
<rect x="752" y="387" width="1" height="91" fill="#000" />
<rect x="750" y="403" width="5" height="57" fill="#000" />
<rect x="751" y="404" width="3" height="55" fill="#fff" />
<rect x="760" y="393" width="1" height="32" fill="#000" />
<rect x="758" y="400" width="5" height="5" fill="#000" />
<rect x="759" y="401" width="3" height="3" fill="#fff" />
<rect x="768" y="377" width="1" height="33" fill="#000" />
<rect x="766" y="383" width="5" height="23" fill="#000" />
<rect x="767" y="384" width="3" height="21" fill="#fff" />
<rect x="776" y="324" width="1" height="98" fill="#000" />
<rect x="774" y="378" width="5" height="38" fill="#000" />
<rect x="784" y="372" width="1" height="75" fill="#000" />
<rect x="782" y="391" width="5" height="27" fill="#000" />
<rect x="783" y="392" width="3" height="25" fill="#fff" />
<rect x="792" y="386" width="1" height="86" fill="#000" />
<rect x="790" y="390" width="5" height="73" fill="#000" />
<rect x="800" y="363" width="1" height="114" fill="#000" />
<rect x="798" y="368" width="5" height="94" fill="#000" />
<rect x="799" y="369" width="3" height="92" fill="#fff" />
<rect x="808" y="344" width="1" height="32" fill="#000" />
<rect x="806" y="351" width="5" height="17" fill="#000" />
<rect x="807" y="352" width="3" height="15" fill="#fff" />
<rect x="816" y="417" width="1" height="39" fill="#000" />
<rect x="814" y="424" width="5" height="21" fill="#000" />
<rect x="824" y="414" width="1" height="45" fill="#000" />
<rect x="822" y="430" width="5" height="16" fill="#000" />
<rect x="823" y="431" width="3" height="14" fill="#fff" />
<rect x="832" y="426" width="1" height="55" fill="#000" />
<rect x="830" y="428" width="5" height="40" fill="#000" />
<rect x="840" y="464" width="1" height="87" fill="#000" />
<rect x="838" y="465" width="5" height="74" fill="#000" />
<rect x="848" y="517" width="1" height="48" fill="#000" />
<rect x="846" y="522" width="5" height="17" fill="#000" />
<rect x="847" y="523" width="3" height="15" fill="#fff" />
<rect x="856" y="518" width="1" height="41" fill="#000" />
<rect x="854" y="523" width="5" height="33" fill="#000" />
<rect x="864" y="552" width="1" height="16" fill="#000" />
<rect x="862" y="554" width="5" height="13" fill="#000" />
<rect x="872" y="473" width="1" height="97" fill="#000" />
<rect x="870" y="476" width="5" height="89" fill="#000" />
<rect x="871" y="477" width="3" height="87" fill="#fff" />
<rect x="880" y="459" width="1" height="38" fill="#000" />
<rect x="878" y="462" width="5" height="16" fill="#000" />
<rect x="879" y="463" width="3" height="14" fill="#fff" />
<rect x="888" y="456" width="1" height="34" fill="#000" />
<rect x="886" y="464" width="5" height="5" fill="#000" />
<rect x="896" y="442" width="1" height="29" fill="#000" />
<rect x="894" y="456" width="5" height="12" fill="#000" />
<rect x="895" y="457" width="3" height="10" fill="#fff" />
<rect x="904" y="443" width="1" height="23" fill="#000" />
<rect x="902" y="453" width="5" height="5" fill="#000" />
<rect x="903" y="454" width="3" height="3" fill="#fff" />
<rect x="912" y="448" width="1" height="21" fill="#000" />
<rect x="910" y="449" width="5" height="11" fill="#000" />
<rect x="920" y="462" width="1" height="46" fill="#000" />
<rect x="918" y="465" width="5" height="4" fill="#000" />
<rect x="928" y="442" width="1" height="64" fill="#000" />
<rect x="926" y="470" width="5" height="27" fill="#000" />
<rect x="936" y="458" width="1" height="75" fill="#000" />
<rect x="934" y="463" width="5" height="33" fill="#000" />
<rect x="935" y="464" width="3" height="31" fill="#fff" />
<rect x="944" y="445" width="1" height="29" fill="#000" />
<rect x="942" y="452" width="5" height="11" fill="#000" />
<rect x="943" y="453" width="3" height="9" fill="#fff" />
<rect x="952" y="439" width="1" height="15" fill="#000" />
<rect x="950" y="440" width="5" height="14" fill="#000" />
<rect x="951" y="441" width="3" height="12" fill="#fff" />
<rect x="960" y="449" width="1" height="16" fill="#000" />
<rect x="958" y="449" width="5" height="4" fill="#000" />
<rect x="968" y="456" width="1" height="58" fill="#000" />
<rect x="966" y="456" width="5" height="28" fill="#000" />
<rect x="976" y="433" width="1" height="67" fill="#000" />
<rect x="974" y="436" width="5" height="49" fill="#000" />
<rect x="975" y="437" width="3" height="47" fill="#fff" />
<rect x="984" y="405" width="1" height="42" fill="#000" />
<rect x="982" y="408" width="5" height="28" fill="#000" />
<rect x="983" y="409" width="3" height="26" fill="#fff" />
<rect x="992" y="396" width="1" height="24" fill="#000" />
<rect x="990" y="407" width="5" height="8" fill="#000" />
<rect x="1000" y="411" width="1" height="18" fill="#000" />
<rect x="998" y="415" width="5" height="7" fill="#000" />
<rect x="1008" y="415" width="1" height="8" fill="#000" />
<rect x="1006" y="420" width="5" height="1" fill="#000" />
<rect x="1016" y="381" width="1" height="59" fill="#000" />
<rect x="1014" y="420" width="5" height="2" fill="#000" />
<rect x="1024" y="408" width="1" height="36" fill="#000" />
<rect x="1022" y="421" width="5" height="13" fill="#000" />
<rect x="1032" y="407" width="1" height="49" fill="#000" />
<rect x="1030" y="408" width="5" height="27" fill="#000" />
<rect x="1031" y="409" width="3" height="25" fill="#fff" />
<rect x="1040" y="397" width="1" height="32" fill="#000" />
<rect x="1038" y="407" width="5" height="6" fill="#000" />
<rect x="1048" y="409" width="1" height="32" fill="#000" />
<rect x="1046" y="411" width="5" height="20" fill="#000" />
<rect x="1056" y="402" width="1" height="21" fill="#000" />
<rect x="1054" y="409" width="5" height="6" fill="#000" />
<rect x="1055" y="410" width="3" height="4" fill="#fff" />
<rect x="1064" y="369" width="1" height="44" fill="#000" />
<rect x="1062" y="407" width="5" height="1" fill="#000" />
<rect x="1072" y="393" width="1" height="69" fill="#000" />
<rect x="1070" y="405" width="5" height="57" fill="#000" />
<rect x="1080" y="440" width="1" height="41" fill="#000" />
<rect x="1078" y="453" width="5" height="7" fill="#000" />
<rect x="1079" y="454" width="3" height="5" fill="#fff" />
<rect x="1088" y="440" width="1" height="31" fill="#000" />
<rect x="1086" y="452" width="5" height="16" fill="#000" />
<rect x="1096" y="448" width="1" height="27" fill="#000" />
<rect x="1094" y="448" width="5" height="21" fill="#000" />
<rect x="1095" y="449" width="3" height="19" fill="#fff" />
<rect x="1104" y="434" width="1" height="10" fill="#000" />
<rect x="1102" y="436" width="5" height="8" fill="#000" />
<rect x="1103" y="437" width="3" height="6" fill="#fff" />
<rect x="1112" y="403" width="1" height="49" fill="#000" />
<rect x="1110" y="405" width="5" height="30" fill="#000" />
<rect x="1111" y="406" width="3" height="28" fill="#fff" />
<rect x="1120" y="402" width="1" height="36" fill="#000" />
<rect x="1118" y="402" width="5" height="5" fill="#000" />
<rect x="1119" y="403" width="3" height="3" fill="#fff" />
<rect x="1128" y="390" width="1" height="25" fill="#000" />
<rect x="1126" y="390" width="5" height="12" fill="#000" />
<rect x="1127" y="391" width="3" height="10" fill="#fff" />
<rect x="1136" y="386" width="1" height="20" fill="#000" />
<rect x="1134" y="389" width="5" height="3" fill="#000" />
<rect x="1135" y="390" width="3" height="1" fill="#fff" />
<rect x="1144" y="381" width="1" height="11" fill="#000" />
<rect x="1142" y="389" width="5" height="2" fill="#000" />
<rect x="1152" y="375" width="1" height="13" fill="#000" />
<rect x="1150" y="383" width="5" height="1" fill="#000" />
<rect x="1160" y="378" width="1" height="38" fill="#000" />
<rect x="1158" y="384" width="5" height="17" fill="#000" />
<rect x="1168" y="396" width="1" height="29" fill="#000" />
<rect x="1166" y="399" width="5" height="7" fill="#000" />
<rect x="1176" y="406" width="1" height="35" fill="#000" />
<rect x="1174" y="406" width="5" height="25" fill="#000" />
<rect x="1184" y="418" width="1" height="21" fill="#000" />
<rect x="1182" y="421" width="5" height="9" fill="#000" />
<rect x="1183" y="422" width="3" height="7" fill="#fff" />
<rect x="1192" y="418" width="1" height="13" fill="#000" />
<rect x="1190" y="422" width="5" height="9" fill="#000" />
<rect x="1200" y="434" width="1" height="13" fill="#000" />
<rect x="1198" y="437" width="5" height="8" fill="#000" />
<rect x="1208" y="434" width="1" height="43" fill="#000" />
<rect x="1206" y="443" width="5" height="10" fill="#000" />
<rect x="1216" y="449" width="1" height="72" fill="#000" />
<rect x="1214" y="451" width="5" height="61" fill="#000" />
<rect x="1224" y="493" width="1" height="38" fill="#000" />
<rect x="1222" y="505" width="5" height="7" fill="#000" />
<rect x="1223" y="506" width="3" height="5" fill="#fff" />
<rect x="1232" y="503" width="1" height="46" fill="#000" />
<rect x="1230" y="504" width="5" height="44" fill="#000" />
<rect x="1240" y="523" width="1" height="29" fill="#000" />
<rect x="1238" y="536" width="5" height="11" fill="#000" />
<rect x="1239" y="537" width="3" height="9" fill="#fff" />
<rect x="1248" y="518" width="1" height="28" fill="#000" />
<rect x="1246" y="523" width="5" height="16" fill="#000" />
<rect x="1247" y="524" width="3" height="14" fill="#fff" />
<rect x="1256" y="474" width="1" height="51" fill="#000" />
<rect x="1254" y="485" width="5" height="32" fill="#000" />
<rect x="1255" y="486" width="3" height="30" fill="#fff" />
<rect x="1264" y="440" width="1" height="47" fill="#000" />
<rect x="1262" y="445" width="5" height="38" fill="#000" />
<rect x="1263" y="446" width="3" height="36" fill="#fff" />
<rect x="1272" y="440" width="1" height="38" fill="#000" />
<rect x="1270" y="445" width="5" height="32" fill="#000" />
<rect x="1280" y="455" width="1" height="29" fill="#000" />
<rect x="1278" y="462" width="5" height="6" fill="#000" />
<rect x="1279" y="463" width="3" height="4" fill="#fff" />
<rect x="1288" y="459" width="1" height="7" fill="#000" />
<rect x="1286" y="459" width="5" height="5" fill="#000" />
<rect x="1287" y="460" width="3" height="3" fill="#fff" />
<rect x="1296" y="437" width="1" height="12" fill="#000" />
<rect x="1294" y="443" width="5" height="5" fill="#000" />
<rect x="1304" y="428" width="1" height="38" fill="#000" />
<rect x="1302" y="446" width="5" height="6" fill="#000" />
<rect x="1303" y="447" width="3" height="4" fill="#fff" />
<rect x="1312" y="420" width="1" height="30" fill="#000" />
<rect x="1310" y="436" width="5" height="10" fill="#000" />
<rect x="1311" y="437" width="3" height="8" fill="#fff" />
<rect x="1320" y="431" width="1" height="7" fill="#000" />
<rect x="1318" y="436" width="5" height="2" fill="#000" />
<rect x="1328" y="431" width="1" height="9" fill="#000" />
<rect x="1326" y="433" width="5" height="5" fill="#000" />
<rect x="1327" y="434" width="3" height="3" fill="#fff" />
<rect x="1336" y="427" width="1" height="8" fill="#000" />
<rect x="1334" y="428" width="5" height="7" fill="#000" />
<rect x="1335" y="429" width="3" height="5" fill="#fff" />
<rect x="1344" y="427" width="1" height="10" fill="#000" />
<rect x="1342" y="431" width="5" height="6" fill="#000" />
<rect x="1352" y="411" width="1" height="29" fill="#000" />
<rect x="1350" y="414" width="5" height="23" fill="#000" />
<rect x="1351" y="415" width="3" height="21" fill="#fff" />
<rect x="1360" y="411" width="1" height="51" fill="#000" />
<rect x="1358" y="415" width="5" height="38" fill="#000" />
<rect x="1368" y="430" width="1" height="27" fill="#000" />
<rect x="1366" y="451" width="5" height="3" fill="#000" />
<rect x="1376" y="445" width="1" height="25" fill="#000" />
<rect x="1374" y="454" width="5" height="16" fill="#000" />
<rect x="1384" y="468" width="1" height="33" fill="#000" />
<rect x="1382" y="470" width="5" height="31" fill="#000" />
<rect x="1274" y="465" width="118" height="13" fill="#00ff00" />
</g>
<text x="1081.8" y="517.1" font-size="30.5" fill="#000" font-weight="bold" textLength="167.2" lengthAdjust="spacingAndGlyphs">多空转折点</text>
<text x="1246.3" y="516.8" font-size="32" fill="#000" font-weight="bold" >21074</text>
<text x="1080.8" y="516.1" font-size="30.5" fill="#00ff00" font-weight="bold" textLength="167.2" lengthAdjust="spacingAndGlyphs">多空转折点</text>
<text x="1245.3" y="515.8" font-size="32" fill="#00ff00" font-weight="bold" >21074</text>
<g shape-rendering="crispEdges">
<rect x="0" y="29" width="1629" height="1" fill="#000" />
<rect x="1628" y="29" width="1" height="901" fill="#000" />
<rect x="0" y="582" width="1629" height="1" fill="#000" />
<rect x="0" y="584" width="1629" height="1" fill="#000" />
<rect x="0" y="767" width="1629" height="1" fill="#000" />
<rect x="0" y="769" width="1629" height="1" fill="#000" />
<rect x="0" y="929" width="1629" height="1" fill="#000" />
<polygon points="1393,30 1404,30 1398.5,35.5" fill="#c0c0c0" shape-rendering="geometricPrecision"/>
</g>
<g shape-rendering="crispEdges">
<rect x="1629" y="51" width="2" height="1" fill="#000" />
<rect x="1629" y="84" width="2" height="1" fill="#000" />
<rect x="1629" y="117" width="2" height="1" fill="#000" />
<rect x="1629" y="150" width="2" height="1" fill="#000" />
<rect x="1629" y="183" width="2" height="1" fill="#000" />
<rect x="1629" y="216" width="2" height="1" fill="#000" />
<rect x="1629" y="249" width="2" height="1" fill="#000" />
<rect x="1629" y="282" width="2" height="1" fill="#000" />
<rect x="1629" y="315" width="2" height="1" fill="#000" />
<rect x="1629" y="348" width="2" height="1" fill="#000" />
<rect x="1629" y="381" width="2" height="1" fill="#000" />
<rect x="1629" y="414" width="2" height="1" fill="#000" />
<rect x="1629" y="447" width="2" height="1" fill="#000" />
<rect x="1629" y="480" width="2" height="1" fill="#000" />
<rect x="1629" y="513" width="2" height="1" fill="#000" />
<rect x="1629" y="546" width="2" height="1" fill="#000" />
<rect x="1629" y="579" width="2" height="1" fill="#000" />
</g>
<text x="1634.5" y="55.0" font-size="10.3" fill="#000" textLength="32.4" lengthAdjust="spacingAndGlyphs" >22496.0</text>
<text x="1634.5" y="88.0" font-size="10.3" fill="#000" textLength="32.4" lengthAdjust="spacingAndGlyphs" >22385.0</text>
<text x="1634.5" y="121.0" font-size="10.3" fill="#000" textLength="32.4" lengthAdjust="spacingAndGlyphs" >22271.0</text>
<text x="1634.5" y="154.0" font-size="10.3" fill="#000" textLength="32.4" lengthAdjust="spacingAndGlyphs" >22160.0</text>
<text x="1634.5" y="187.0" font-size="10.3" fill="#000" textLength="32.4" lengthAdjust="spacingAndGlyphs" >22049.0</text>
<text x="1634.5" y="220.0" font-size="10.3" fill="#000" textLength="32.4" lengthAdjust="spacingAndGlyphs" >21938.0</text>
<text x="1634.5" y="253.0" font-size="10.3" fill="#000" textLength="32.4" lengthAdjust="spacingAndGlyphs" >21824.0</text>
<text x="1634.5" y="286.0" font-size="10.3" fill="#000" textLength="32.4" lengthAdjust="spacingAndGlyphs" >21713.0</text>
<text x="1634.5" y="319.0" font-size="10.3" fill="#000" textLength="32.4" lengthAdjust="spacingAndGlyphs" >21602.0</text>
<text x="1634.5" y="352.0" font-size="10.3" fill="#000" textLength="32.4" lengthAdjust="spacingAndGlyphs" >21491.0</text>
<text x="1634.5" y="385.0" font-size="10.3" fill="#000" textLength="32.4" lengthAdjust="spacingAndGlyphs" >21377.0</text>
<text x="1634.5" y="418.0" font-size="10.3" fill="#000" textLength="32.4" lengthAdjust="spacingAndGlyphs" >21266.0</text>
<text x="1634.5" y="451.0" font-size="10.3" fill="#000" textLength="32.4" lengthAdjust="spacingAndGlyphs" >21155.0</text>
<text x="1634.5" y="484.0" font-size="10.3" fill="#000" textLength="32.4" lengthAdjust="spacingAndGlyphs" >21044.0</text>
<text x="1634.5" y="517.0" font-size="10.3" fill="#000" textLength="32.4" lengthAdjust="spacingAndGlyphs" >20930.0</text>
<text x="1634.5" y="550.0" font-size="10.3" fill="#000" textLength="32.4" lengthAdjust="spacingAndGlyphs" >20819.0</text>
<text x="1634.5" y="583.0" font-size="10.3" fill="#000" textLength="32.4" lengthAdjust="spacingAndGlyphs" >20708.0</text>
<g shape-rendering="crispEdges">
<rect x="0" y="583" width="1675" height="1" fill="#fff" />
<rect x="0" y="768" width="1675" height="1" fill="#fff" />
<rect x="1629" y="582" width="46" height="3" fill="#fff" />
<rect x="1629" y="767" width="46" height="3" fill="#fff" />
</g>
<text x="1634.5" y="583.0" font-size="10.3" fill="#000" textLength="32.4" lengthAdjust="spacingAndGlyphs" >20708.0</text>
<g shape-rendering="crispEdges">
<rect x="1630" y="390" width="41" height="11" fill="#ff0000" />
<rect x="1630" y="431" width="41" height="11" fill="#ff0000" />
<rect x="1630" y="465" width="41" height="11" fill="#32cd32" />
<rect x="1630" y="494" width="41" height="11" fill="#000000" />
<rect x="1630" y="536" width="41" height="11" fill="#0000ff" />
<rect x="1630" y="569" width="41" height="11" fill="#0000ff" />
</g>
<text x="1634.5" y="398.9" font-size="10.3" fill="#fff" textLength="32.4" lengthAdjust="spacingAndGlyphs" >21327.8</text>
<text x="1634.5" y="439.9" font-size="10.3" fill="#fff" textLength="32.4" lengthAdjust="spacingAndGlyphs" >21189.2</text>
<text x="1634.5" y="473.9" font-size="10.3" fill="#fff" textLength="32.4" lengthAdjust="spacingAndGlyphs" >21074.2</text>
<text x="1634.5" y="502.9" font-size="10.3" fill="#fff" textLength="32.4" lengthAdjust="spacingAndGlyphs" >20975.0</text>
<text x="1634.5" y="544.9" font-size="10.3" fill="#fff" textLength="32.4" lengthAdjust="spacingAndGlyphs" >20834.2</text>
<text x="1634.5" y="577.9" font-size="10.3" fill="#fff" textLength="32.4" lengthAdjust="spacingAndGlyphs" >20722.7</text>
<g shape-rendering="crispEdges">
<rect x="0" y="602" width="1" height="49" fill="#c0c0c0" />
<rect x="8" y="611" width="1" height="40" fill="#c0c0c0" />
<rect x="16" y="617" width="1" height="34" fill="#c0c0c0" />
<rect x="24" y="620" width="1" height="31" fill="#c0c0c0" />
<rect x="32" y="620" width="1" height="31" fill="#c0c0c0" />
<rect x="40" y="621" width="1" height="30" fill="#c0c0c0" />
<rect x="48" y="623" width="1" height="28" fill="#c0c0c0" />
<rect x="56" y="626" width="1" height="25" fill="#c0c0c0" />
<rect x="64" y="629" width="1" height="22" fill="#c0c0c0" />
<rect x="72" y="632" width="1" height="19" fill="#c0c0c0" />
<rect x="80" y="634" width="1" height="17" fill="#c0c0c0" />
<rect x="88" y="636" width="1" height="15" fill="#c0c0c0" />
<rect x="96" y="637" width="1" height="14" fill="#c0c0c0" />
<rect x="104" y="639" width="1" height="12" fill="#c0c0c0" />
<rect x="112" y="639" width="1" height="12" fill="#c0c0c0" />
<rect x="120" y="639" width="1" height="12" fill="#c0c0c0" />
<rect x="128" y="639" width="1" height="12" fill="#c0c0c0" />
<rect x="136" y="636" width="1" height="15" fill="#c0c0c0" />
<rect x="144" y="637" width="1" height="14" fill="#c0c0c0" />
<rect x="152" y="639" width="1" height="12" fill="#c0c0c0" />
<rect x="160" y="640" width="1" height="11" fill="#c0c0c0" />
<rect x="168" y="639" width="1" height="12" fill="#c0c0c0" />
<rect x="176" y="636" width="1" height="15" fill="#c0c0c0" />
<rect x="184" y="633" width="1" height="18" fill="#c0c0c0" />
<rect x="192" y="631" width="1" height="20" fill="#c0c0c0" />
<rect x="200" y="637" width="1" height="14" fill="#c0c0c0" />
<rect x="208" y="640" width="1" height="11" fill="#c0c0c0" />
<rect x="216" y="644" width="1" height="7" fill="#c0c0c0" />
<rect x="224" y="645" width="1" height="6" fill="#c0c0c0" />
<rect x="232" y="648" width="1" height="3" fill="#c0c0c0" />
<rect x="240" y="650" width="1" height="1" fill="#c0c0c0" />
<rect x="248" y="647" width="1" height="4" fill="#c0c0c0" />
<rect x="256" y="646" width="1" height="5" fill="#c0c0c0" />
<rect x="264" y="649" width="1" height="2" fill="#c0c0c0" />
<rect x="272" y="650" width="1" height="1" fill="#c0c0c0" />
<rect x="280" y="650" width="1" height="1" fill="#c0c0c0" />
<rect x="288" y="650" width="1" height="1" fill="#c0c0c0" />
<rect x="296" y="650" width="1" height="4" fill="#c0c0c0" />
<rect x="304" y="650" width="1" height="1" fill="#c0c0c0" />
<rect x="312" y="650" width="1" height="1" fill="#c0c0c0" />
<rect x="320" y="647" width="1" height="4" fill="#c0c0c0" />
<rect x="328" y="643" width="1" height="8" fill="#c0c0c0" />
<rect x="336" y="640" width="1" height="11" fill="#c0c0c0" />
<rect x="344" y="635" width="1" height="16" fill="#c0c0c0" />
<rect x="352" y="634" width="1" height="17" fill="#c0c0c0" />
<rect x="360" y="631" width="1" height="20" fill="#c0c0c0" />
<rect x="368" y="628" width="1" height="23" fill="#c0c0c0" />
<rect x="376" y="627" width="1" height="24" fill="#c0c0c0" />
<rect x="384" y="628" width="1" height="23" fill="#c0c0c0" />
<rect x="392" y="629" width="1" height="22" fill="#c0c0c0" />
<rect x="400" y="630" width="1" height="21" fill="#c0c0c0" />
<rect x="408" y="632" width="1" height="19" fill="#c0c0c0" />
<rect x="416" y="633" width="1" height="18" fill="#c0c0c0" />
<rect x="424" y="632" width="1" height="19" fill="#c0c0c0" />
<rect x="432" y="632" width="1" height="19" fill="#c0c0c0" />
<rect x="440" y="631" width="1" height="20" fill="#c0c0c0" />
<rect x="448" y="632" width="1" height="19" fill="#c0c0c0" />
<rect x="456" y="635" width="1" height="16" fill="#c0c0c0" />
<rect x="464" y="636" width="1" height="15" fill="#c0c0c0" />
<rect x="472" y="645" width="1" height="6" fill="#c0c0c0" />
<rect x="480" y="650" width="1" height="1" fill="#c0c0c0" />
<rect x="488" y="650" width="1" height="1" fill="#c0c0c0" />
<rect x="496" y="650" width="1" height="1" fill="#c0c0c0" />
<rect x="504" y="650" width="1" height="1" fill="#c0c0c0" />
<rect x="512" y="650" width="1" height="4" fill="#c0c0c0" />
<rect x="520" y="650" width="1" height="4" fill="#c0c0c0" />
<rect x="528" y="650" width="1" height="4" fill="#c0c0c0" />
<rect x="536" y="650" width="1" height="3" fill="#c0c0c0" />
<rect x="544" y="650" width="1" height="1" fill="#c0c0c0" />
<rect x="552" y="650" width="1" height="1" fill="#c0c0c0" />
<rect x="560" y="645" width="1" height="6" fill="#c0c0c0" />
<rect x="568" y="640" width="1" height="11" fill="#c0c0c0" />
<rect x="576" y="650" width="1" height="1" fill="#c0c0c0" />
<rect x="584" y="650" width="1" height="16" fill="#c0c0c0" />
<rect x="592" y="650" width="1" height="25" fill="#c0c0c0" />
<rect x="600" y="650" width="1" height="26" fill="#c0c0c0" />
<rect x="608" y="650" width="1" height="23" fill="#c0c0c0" />
<rect x="616" y="650" width="1" height="22" fill="#c0c0c0" />
<rect x="624" y="650" width="1" height="23" fill="#c0c0c0" />
<rect x="632" y="650" width="1" height="30" fill="#c0c0c0" />
<rect x="640" y="650" width="1" height="36" fill="#c0c0c0" />
<rect x="648" y="650" width="1" height="49" fill="#c0c0c0" />
<rect x="656" y="650" width="1" height="63" fill="#c0c0c0" />
<rect x="664" y="650" width="1" height="70" fill="#c0c0c0" />
<rect x="672" y="650" width="1" height="77" fill="#c0c0c0" />
<rect x="680" y="650" width="1" height="83" fill="#c0c0c0" />
<rect x="688" y="650" width="1" height="88" fill="#c0c0c0" />
<rect x="696" y="650" width="1" height="93" fill="#c0c0c0" />
<rect x="704" y="650" width="1" height="93" fill="#c0c0c0" />
<rect x="712" y="650" width="1" height="93" fill="#c0c0c0" />
<rect x="720" y="650" width="1" height="93" fill="#c0c0c0" />
<rect x="728" y="650" width="1" height="96" fill="#c0c0c0" />
<rect x="736" y="650" width="1" height="99" fill="#c0c0c0" />
<rect x="744" y="650" width="1" height="108" fill="#c0c0c0" />
<rect x="752" y="650" width="1" height="107" fill="#c0c0c0" />
<rect x="760" y="650" width="1" height="104" fill="#c0c0c0" />
<rect x="768" y="650" width="1" height="100" fill="#c0c0c0" />
<rect x="776" y="650" width="1" height="98" fill="#c0c0c0" />
<rect x="784" y="650" width="1" height="93" fill="#c0c0c0" />
<rect x="792" y="650" width="1" height="96" fill="#c0c0c0" />
<rect x="800" y="650" width="1" height="86" fill="#c0c0c0" />
<rect x="808" y="650" width="1" height="76" fill="#c0c0c0" />
<rect x="816" y="650" width="1" height="78" fill="#c0c0c0" />
<rect x="824" y="650" width="1" height="77" fill="#c0c0c0" />
<rect x="832" y="650" width="1" height="80" fill="#c0c0c0" />
<rect x="840" y="650" width="1" height="90" fill="#c0c0c0" />
<rect x="848" y="650" width="1" height="95" fill="#c0c0c0" />
<rect x="856" y="650" width="1" height="102" fill="#c0c0c0" />
<rect x="864" y="650" width="1" height="108" fill="#c0c0c0" />
<rect x="872" y="650" width="1" height="100" fill="#c0c0c0" />
<rect x="880" y="650" width="1" height="92" fill="#c0c0c0" />
<rect x="888" y="650" width="1" height="83" fill="#c0c0c0" />
<rect x="896" y="650" width="1" height="75" fill="#c0c0c0" />
<rect x="904" y="650" width="1" height="68" fill="#c0c0c0" />
<rect x="912" y="650" width="1" height="61" fill="#c0c0c0" />
<rect x="920" y="650" width="1" height="57" fill="#c0c0c0" />
<rect x="928" y="650" width="1" height="57" fill="#c0c0c0" />
<rect x="936" y="650" width="1" height="51" fill="#c0c0c0" />
<rect x="944" y="650" width="1" height="45" fill="#c0c0c0" />
<rect x="952" y="650" width="1" height="39" fill="#c0c0c0" />
<rect x="960" y="650" width="1" height="34" fill="#c0c0c0" />
<rect x="968" y="650" width="1" height="35" fill="#c0c0c0" />
<rect x="976" y="650" width="1" height="28" fill="#c0c0c0" />
<rect x="984" y="650" width="1" height="20" fill="#c0c0c0" />
<rect x="992" y="650" width="1" height="13" fill="#c0c0c0" />
<rect x="1000" y="650" width="1" height="9" fill="#c0c0c0" />
<rect x="1008" y="650" width="1" height="6" fill="#c0c0c0" />
<rect x="1016" y="650" width="1" height="3" fill="#c0c0c0" />
<rect x="1024" y="650" width="1" height="2" fill="#c0c0c0" />
<rect x="1032" y="650" width="1" height="2" fill="#c0c0c0" />
<rect x="1040" y="647" width="1" height="4" fill="#c0c0c0" />
<rect x="1048" y="648" width="1" height="3" fill="#c0c0c0" />
<rect x="1056" y="646" width="1" height="5" fill="#c0c0c0" />
<rect x="1064" y="644" width="1" height="7" fill="#c0c0c0" />
<rect x="1072" y="650" width="1" height="1" fill="#c0c0c0" />
<rect x="1080" y="650" width="1" height="1" fill="#c0c0c0" />
<rect x="1088" y="650" width="1" height="5" fill="#c0c0c0" />
<rect x="1096" y="650" width="1" height="6" fill="#c0c0c0" />
<rect x="1104" y="650" width="1" height="5" fill="#c0c0c0" />
<rect x="1112" y="650" width="1" height="1" fill="#c0c0c0" />
<rect x="1120" y="648" width="1" height="3" fill="#c0c0c0" />
<rect x="1128" y="643" width="1" height="8" fill="#c0c0c0" />
<rect x="1136" y="640" width="1" height="11" fill="#c0c0c0" />
<rect x="1144" y="637" width="1" height="14" fill="#c0c0c0" />
<rect x="1152" y="634" width="1" height="17" fill="#c0c0c0" />
<rect x="1160" y="634" width="1" height="17" fill="#c0c0c0" />
<rect x="1168" y="635" width="1" height="16" fill="#c0c0c0" />
<rect x="1176" y="640" width="1" height="11" fill="#c0c0c0" />
<rect x="1184" y="642" width="1" height="9" fill="#c0c0c0" />
<rect x="1192" y="644" width="1" height="7" fill="#c0c0c0" />
<rect x="1200" y="650" width="1" height="1" fill="#c0c0c0" />
<rect x="1208" y="650" width="1" height="2" fill="#c0c0c0" />
<rect x="1216" y="650" width="1" height="13" fill="#c0c0c0" />
<rect x="1224" y="650" width="1" height="20" fill="#c0c0c0" />
<rect x="1232" y="650" width="1" height="31" fill="#c0c0c0" />
<rect x="1240" y="650" width="1" height="37" fill="#c0c0c0" />
<rect x="1248" y="650" width="1" height="41" fill="#c0c0c0" />
<rect x="1256" y="650" width="1" height="38" fill="#c0c0c0" />
<rect x="1264" y="650" width="1" height="31" fill="#c0c0c0" />
<rect x="1272" y="650" width="1" height="27" fill="#c0c0c0" />
<rect x="1280" y="650" width="1" height="24" fill="#c0c0c0" />
<rect x="1288" y="650" width="1" height="21" fill="#c0c0c0" />
<rect x="1296" y="650" width="1" height="16" fill="#c0c0c0" />
<rect x="1304" y="650" width="1" height="12" fill="#c0c0c0" />
<rect x="1312" y="650" width="1" height="7" fill="#c0c0c0" />
<rect x="1320" y="650" width="1" height="4" fill="#c0c0c0" />
<rect x="1328" y="650" width="1" height="1" fill="#c0c0c0" />
<rect x="1336" y="649" width="1" height="2" fill="#c0c0c0" />
<rect x="1344" y="647" width="1" height="4" fill="#c0c0c0" />
<rect x="1352" y="643" width="1" height="8" fill="#c0c0c0" />
<rect x="1360" y="645" width="1" height="6" fill="#c0c0c0" />
<rect x="1368" y="647" width="1" height="4" fill="#c0c0c0" />
<rect x="1376" y="648" width="1" height="3" fill="#c0c0c0" />
<rect x="1384" y="650" width="1" height="6" fill="#c0c0c0" />
<path d="M0 595.5h3M6 596.5h3M12 597.5h1M13 598.5h2M18 599.5h1M19 600.5h2M24 601.5h1M25 602.5h2M30 604.5h3M36 606.5h2M38 607.5h1M42 608.5h1M43 609.5h2M48 611.5h2M50 612.5h1M54 613.5h1M55 614.5h2M60 616.5h2M62 617.5h1M66 619.5h3M72 621.5h2M74 622.5h1M78 623.5h3M84 625.5h3M90 626.5h2M92 627.5h1M96 628.5h3M102 629.5h1M408 629.5h3M414 629.5h3M420 629.5h3M426 629.5h3M432 629.5h3M438 629.5h2M103 630.5h2M402 630.5h3M440 630.5h1M444 630.5h3M450 630.5h3M108 631.5h3M397 631.5h2M456 631.5h3M114 632.5h3M396 632.5h1M462 632.5h3M468 632.5h1M120 633.5h3M390 633.5h3M469 633.5h2M126 634.5h3M385 634.5h2M474 634.5h3M132 635.5h1M380 635.5h1M384 635.5h1M480 635.5h3M133 636.5h2M138 636.5h3M144 636.5h2M187 636.5h2M192 636.5h3M198 636.5h3M204 636.5h3M210 636.5h3M378 636.5h2M486 636.5h1M146 637.5h1M150 637.5h3M156 637.5h3M162 637.5h3M174 637.5h3M180 637.5h3M186 637.5h1M216 637.5h3M222 637.5h3M372 637.5h3M487 637.5h2M168 638.5h3M228 638.5h3M234 638.5h3M492 638.5h2M1182 638.5h3M1188 638.5h3M1194 638.5h3M1200 638.5h3M240 639.5h3M366 639.5h3M494 639.5h1M1176 639.5h3M1206 639.5h1M246 640.5h3M498 640.5h2M1171 640.5h2M1207 640.5h2M252 641.5h1M360 641.5h3M500 641.5h1M1170 641.5h1M253 642.5h2M504 642.5h2M1164 642.5h3M1212 642.5h3M258 643.5h3M354 643.5h3M506 643.5h1M1159 643.5h2M264 644.5h2M349 644.5h2M510 644.5h1M1158 644.5h1M1218 644.5h1M266 645.5h1M270 645.5h1M348 645.5h1M511 645.5h2M1154 645.5h1M1219 645.5h2M271 646.5h2M342 646.5h3M516 646.5h3M1152 646.5h2M276 647.5h3M282 647.5h1M337 647.5h2M522 647.5h2M1146 647.5h3M1224 647.5h1M283 648.5h2M288 648.5h3M336 648.5h1M524 648.5h1M1076 648.5h1M1080 648.5h3M1086 648.5h3M1092 648.5h3M1136 648.5h1M1140 648.5h3M1225 648.5h2M1376 648.5h1M1380 648.5h3M294 649.5h3M300 649.5h3M306 649.5h3M312 649.5h3M318 649.5h3M324 649.5h3M330 649.5h3M528 649.5h1M1069 649.5h2M1074 649.5h2M1098 649.5h3M1129 649.5h2M1134 649.5h2M1370 649.5h1M1374 649.5h2M529 650.5h2M570 650.5h3M576 650.5h3M1062 650.5h3M1068 650.5h1M1104 650.5h3M1110 650.5h3M1116 650.5h3M1122 650.5h3M1128 650.5h1M1364 650.5h1M1368 650.5h2M564 651.5h3M582 651.5h2M1058 651.5h1M1230 651.5h2M1362 651.5h2M534 652.5h3M548 652.5h1M552 652.5h3M558 652.5h3M584 652.5h1M1056 652.5h2M1232 652.5h1M1357 652.5h2M540 653.5h3M546 653.5h2M588 653.5h3M1052 653.5h1M1356 653.5h1M594 654.5h1M1050 654.5h2M1352 654.5h1M595 655.5h2M1236 655.5h2M1350 655.5h2M600 656.5h1M1045 656.5h2M1238 656.5h1M601 657.5h2M1044 657.5h1M1346 657.5h1M1344 658.5h2M606 659.5h3M1038 659.5h3M1242 659.5h1M612 660.5h3M1243 660.5h2M1339 660.5h2M618 661.5h3M1338 661.5h1M1033 662.5h2M1334 662.5h1M624 663.5h3M1032 663.5h1M1248 663.5h1M1332 663.5h2M1249 664.5h2M1027 665.5h2M1328 665.5h1M630 666.5h2M1026 666.5h1M1327 666.5h1M632 667.5h1M1254 667.5h1M1326 667.5h1M1021 668.5h2M1255 668.5h2M636 669.5h1M1020 669.5h1M1321 669.5h2M637 670.5h1M1320 670.5h1M638 671.5h1M1015 671.5h2M1260 671.5h2M1014 672.5h1M1262 672.5h1M1315 672.5h2M1314 673.5h1M642 674.5h2M1010 674.5h1M1266 674.5h2M644 675.5h1M1009 675.5h1M1268 675.5h1M1308 675.5h3M1008 676.5h1M1272 676.5h2M1274 677.5h1M1304 677.5h1M648 678.5h1M1004 678.5h1M1278 678.5h3M1302 678.5h2M649 679.5h2M1003 679.5h1M1284 679.5h3M1290 679.5h1M1296 679.5h3M1002 680.5h1M1291 680.5h2M654 681.5h1M655 682.5h1M998 682.5h1M656 683.5h1M996 683.5h2M660 686.5h1M991 686.5h2M661 687.5h2M990 687.5h1M986 689.5h1M666 690.5h1M985 690.5h1M667 691.5h1M984 691.5h1M668 692.5h1M980 693.5h1M672 694.5h1M978 694.5h2M673 695.5h1M674 696.5h1M974 696.5h1M973 697.5h1M972 698.5h1M678 699.5h1M679 700.5h2M967 700.5h2M966 701.5h1M962 703.5h1M684 704.5h1M960 704.5h2M685 705.5h1M686 706.5h1M956 707.5h1M954 708.5h2M690 710.5h1M691 711.5h1M950 711.5h1M692 712.5h1M948 712.5h2M696 715.5h1M697 716.5h1M944 716.5h1M698 717.5h1M942 717.5h2M702 721.5h1M938 721.5h1M703 722.5h1M936 722.5h2M704 723.5h1M932 725.5h1M708 726.5h2M930 726.5h2M710 727.5h1M926 729.5h1M714 730.5h2M924 730.5h2M716 731.5h1M720 733.5h1M919 733.5h2M721 734.5h1M918 734.5h1M722 735.5h1M840 736.5h3M846 736.5h3M913 736.5h2M726 737.5h2M834 737.5h3M852 737.5h3M858 737.5h3M912 737.5h1M728 738.5h1M828 738.5h3M864 738.5h3M908 738.5h1M823 739.5h2M870 739.5h1M906 739.5h2M732 740.5h2M822 740.5h1M871 740.5h2M902 740.5h1M734 741.5h1M876 741.5h3M896 741.5h1M900 741.5h2M738 742.5h3M817 742.5h2M882 742.5h3M888 742.5h3M894 742.5h2M744 743.5h2M816 743.5h1M746 744.5h1M812 744.5h1M810 745.5h2M750 746.5h1M751 747.5h2M805 747.5h2M756 748.5h3M804 748.5h1M762 749.5h3M768 749.5h2M800 749.5h1M770 750.5h1M774 750.5h3M780 750.5h3M786 750.5h3M792 750.5h3M798 750.5h2" stroke="#ff0000" stroke-width="1" fill="none" />
<rect x="1629" y="586" width="1" height="1" fill="#000" />
<rect x="1629" y="650" width="1" height="1" fill="#000" />
<rect x="1629" y="766" width="1" height="1" fill="#000" />
</g>
<text x="1632.5" y="594.7" font-size="10.3" fill="#000" textLength="27.5" lengthAdjust="spacingAndGlyphs" >139.59</text>
<text x="1632.5" y="653.5" font-size="10.3" fill="#000" textLength="17.7" lengthAdjust="spacingAndGlyphs" >0.00</text>
<text x="1632" y="763.7" font-size="10.3" fill="#000" textLength="30.5" lengthAdjust="spacingAndGlyphs" >-252.25</text>
<text x="5" y="596.7" font-size="10.3" fill="#000" textLength="115" lengthAdjust="spacingAndGlyphs" >MACD(12,26,9) -12.08 3.40</text>
<g shape-rendering="crispEdges">
<line x1="1" x2="1628" y1="802.5" y2="802.5" stroke="#c0c0c0" stroke-width="1" stroke-dasharray="3,3"/>
<line x1="1" x2="1628" y1="849.5" y2="849.5" stroke="#c0c0c0" stroke-width="1" stroke-dasharray="3,3"/>
<line x1="1" x2="1628" y1="906.5" y2="906.5" stroke="#c0c0c0" stroke-width="1" stroke-dasharray="3,3"/>
<path d="M0 818.5h1M0 819.5h1M0 820.5h1M1 821.5h1M184 821.5h2M1 822.5h1M182 822.5h2M186 822.5h2M1 823.5h1M181 823.5h1M188 823.5h2M1 824.5h1M179 824.5h2M190 824.5h2M2 825.5h1M177 825.5h2M192 825.5h1M2 826.5h1M176 826.5h1M192 826.5h1M344 826.5h1M2 827.5h1M136 827.5h1M174 827.5h2M192 827.5h1M342 827.5h2M345 827.5h1M367 827.5h2M2 828.5h1M135 828.5h1M137 828.5h1M173 828.5h1M193 828.5h1M341 828.5h1M346 828.5h1M365 828.5h2M369 828.5h1M3 829.5h1M134 829.5h1M138 829.5h1M171 829.5h2M193 829.5h1M339 829.5h2M346 829.5h1M362 829.5h3M370 829.5h1M3 830.5h1M133 830.5h1M138 830.5h1M169 830.5h2M193 830.5h1M337 830.5h2M347 830.5h1M360 830.5h2M371 830.5h1M440 830.5h1M567 830.5h2M3 831.5h1M132 831.5h1M139 831.5h1M168 831.5h1M193 831.5h1M336 831.5h1M348 831.5h1M359 831.5h1M372 831.5h1M439 831.5h1M441 831.5h1M563 831.5h4M568 831.5h1M3 832.5h1M32 832.5h5M132 832.5h1M140 832.5h1M167 832.5h1M193 832.5h1M334 832.5h2M349 832.5h1M357 832.5h2M373 832.5h1M424 832.5h2M437 832.5h2M441 832.5h1M560 832.5h3M568 832.5h1M4 833.5h1M31 833.5h1M37 833.5h5M131 833.5h1M141 833.5h1M167 833.5h1M194 833.5h1M332 833.5h2M350 833.5h1M356 833.5h1M374 833.5h1M423 833.5h1M426 833.5h2M436 833.5h1M442 833.5h1M558 833.5h2M569 833.5h1M4 834.5h1M30 834.5h1M42 834.5h3M130 834.5h1M142 834.5h1M166 834.5h1M194 834.5h1M330 834.5h2M350 834.5h1M355 834.5h1M375 834.5h1M423 834.5h1M428 834.5h2M435 834.5h1M443 834.5h1M556 834.5h2M569 834.5h1M4 835.5h1M29 835.5h1M45 835.5h2M129 835.5h1M142 835.5h1M165 835.5h1M194 835.5h1M327 835.5h3M351 835.5h1M353 835.5h2M376 835.5h2M422 835.5h1M430 835.5h2M433 835.5h2M444 835.5h1M554 835.5h2M569 835.5h1M1151 835.5h2M4 836.5h1M28 836.5h1M47 836.5h2M125 836.5h4M143 836.5h1M164 836.5h1M194 836.5h1M325 836.5h2M352 836.5h1M378 836.5h3M421 836.5h1M432 836.5h1M444 836.5h1M552 836.5h2M569 836.5h1M1133 836.5h8M1147 836.5h4M1153 836.5h1M1352 836.5h1M4 837.5h1M27 837.5h1M49 837.5h1M119 837.5h6M144 837.5h1M164 837.5h1M195 837.5h1M322 837.5h3M381 837.5h2M420 837.5h1M445 837.5h1M551 837.5h1M569 837.5h1M1127 837.5h6M1141 837.5h6M1154 837.5h1M1351 837.5h1M1353 837.5h1M5 838.5h1M26 838.5h1M50 838.5h1M115 838.5h4M145 838.5h1M163 838.5h1M195 838.5h1M319 838.5h3M383 838.5h3M420 838.5h1M446 838.5h1M550 838.5h1M569 838.5h1M1125 838.5h2M1155 838.5h1M1350 838.5h1M1353 838.5h1M5 839.5h1M25 839.5h1M51 839.5h1M112 839.5h3M146 839.5h1M162 839.5h1M195 839.5h1M317 839.5h2M386 839.5h3M419 839.5h1M447 839.5h1M550 839.5h1M570 839.5h1M1122 839.5h3M1156 839.5h1M1349 839.5h1M1354 839.5h1M5 840.5h1M24 840.5h1M52 840.5h1M111 840.5h1M147 840.5h1M161 840.5h1M195 840.5h1M314 840.5h3M389 840.5h2M397 840.5h8M418 840.5h1M447 840.5h1M549 840.5h1M570 840.5h1M1117 840.5h5M1157 840.5h1M1335 840.5h3M1348 840.5h1M1354 840.5h1M5 841.5h1M23 841.5h1M52 841.5h1M110 841.5h1M148 841.5h1M161 841.5h1M195 841.5h1M309 841.5h5M391 841.5h6M405 841.5h6M417 841.5h1M448 841.5h1M548 841.5h1M570 841.5h1M1112 841.5h5M1158 841.5h1M1331 841.5h4M1338 841.5h2M1347 841.5h1M1355 841.5h1M6 842.5h1M21 842.5h2M53 842.5h1M109 842.5h1M148 842.5h1M160 842.5h1M196 842.5h1M248 842.5h3M304 842.5h5M411 842.5h4M417 842.5h1M449 842.5h1M547 842.5h1M570 842.5h1M984 842.5h3M1032 842.5h3M1063 842.5h2M1111 842.5h1M1159 842.5h1M1325 842.5h6M1340 842.5h2M1346 842.5h1M1355 842.5h1M6 843.5h1M20 843.5h1M54 843.5h1M93 843.5h5M107 843.5h2M149 843.5h1M158 843.5h2M196 843.5h1M247 843.5h1M251 843.5h4M304 843.5h1M415 843.5h2M450 843.5h1M546 843.5h1M570 843.5h1M983 843.5h1M987 843.5h4M1031 843.5h1M1035 843.5h4M1059 843.5h4M1064 843.5h1M1110 843.5h1M1160 843.5h5M1311 843.5h14M1342 843.5h2M1345 843.5h1M1356 843.5h1M6 844.5h1M19 844.5h1M55 844.5h1M77 844.5h16M98 844.5h3M106 844.5h1M150 844.5h1M156 844.5h2M196 844.5h1M247 844.5h1M255 844.5h2M303 844.5h1M450 844.5h1M546 844.5h1M571 844.5h1M981 844.5h2M991 844.5h6M1030 844.5h1M1039 844.5h2M1056 844.5h3M1065 844.5h1M1109 844.5h1M1165 844.5h4M1309 844.5h2M1344 844.5h1M1356 844.5h1M6 845.5h1M17 845.5h2M56 845.5h21M101 845.5h2M105 845.5h1M151 845.5h1M154 845.5h2M196 845.5h1M246 845.5h1M257 845.5h1M303 845.5h1M451 845.5h1M464 845.5h1M545 845.5h1M571 845.5h1M980 845.5h1M997 845.5h20M1029 845.5h1M1041 845.5h2M1055 845.5h1M1065 845.5h1M1108 845.5h1M1169 845.5h1M1306 845.5h3M1357 845.5h1M7 846.5h1M16 846.5h1M103 846.5h2M152 846.5h2M196 846.5h1M245 846.5h1M257 846.5h1M302 846.5h1M452 846.5h1M463 846.5h2M544 846.5h1M571 846.5h1M979 846.5h1M1017 846.5h2M1028 846.5h1M1043 846.5h1M1053 846.5h2M1066 846.5h1M1107 846.5h1M1170 846.5h1M1264 846.5h1M1296 846.5h10M1357 846.5h1M7 847.5h1M15 847.5h1M197 847.5h1M244 847.5h1M258 847.5h1M302 847.5h1M453 847.5h1M461 847.5h2M465 847.5h1M543 847.5h1M571 847.5h1M977 847.5h2M1019 847.5h2M1027 847.5h1M1044 847.5h1M1052 847.5h1M1066 847.5h1M1106 847.5h1M1170 847.5h1M1263 847.5h1M1265 847.5h1M1294 847.5h2M1358 847.5h1M7 848.5h1M13 848.5h2M197 848.5h1M244 848.5h1M259 848.5h1M301 848.5h1M454 848.5h1M460 848.5h1M465 848.5h1M541 848.5h2M571 848.5h1M976 848.5h1M1021 848.5h1M1026 848.5h1M1045 848.5h2M1051 848.5h1M1067 848.5h1M1105 848.5h1M1171 848.5h1M1263 848.5h1M1266 848.5h1M1292 848.5h2M1358 848.5h1M7 849.5h1M12 849.5h1M197 849.5h1M243 849.5h1M260 849.5h1M301 849.5h1M454 849.5h1M459 849.5h1M465 849.5h1M540 849.5h1M572 849.5h1M975 849.5h1M1022 849.5h2M1025 849.5h1M1047 849.5h1M1049 849.5h2M1067 849.5h1M1104 849.5h1M1172 849.5h1M1262 849.5h1M1267 849.5h1M1290 849.5h2M1359 849.5h1M8 850.5h1M11 850.5h1M197 850.5h1M208 850.5h1M224 850.5h2M242 850.5h1M260 850.5h1M272 850.5h9M300 850.5h1M455 850.5h1M457 850.5h2M466 850.5h1M493 850.5h8M539 850.5h1M572 850.5h1M951 850.5h4M975 850.5h1M1024 850.5h1M1048 850.5h1M1068 850.5h1M1102 850.5h2M1173 850.5h1M1262 850.5h1M1268 850.5h1M1285 850.5h5M1359 850.5h1M8 851.5h3M197 851.5h1M207 851.5h1M209 851.5h2M223 851.5h1M226 851.5h2M241 851.5h1M261 851.5h1M270 851.5h2M281 851.5h1M300 851.5h1M456 851.5h1M466 851.5h1M488 851.5h5M501 851.5h4M520 851.5h3M537 851.5h2M572 851.5h1M608 851.5h2M947 851.5h4M955 851.5h4M974 851.5h1M1068 851.5h1M1100 851.5h2M1174 851.5h1M1183 851.5h4M1261 851.5h1M1268 851.5h1M1280 851.5h5M1360 851.5h5M8 852.5h1M198 852.5h1M207 852.5h1M211 852.5h1M221 852.5h2M228 852.5h2M241 852.5h1M262 852.5h1M269 852.5h1M282 852.5h1M299 852.5h1M466 852.5h1M487 852.5h1M505 852.5h1M519 852.5h1M523 852.5h4M533 852.5h4M572 852.5h1M607 852.5h1M610 852.5h3M944 852.5h3M959 852.5h2M973 852.5h1M1069 852.5h1M1098 852.5h2M1174 852.5h1M1181 852.5h2M1187 852.5h4M1260 852.5h1M1269 852.5h1M1278 852.5h2M1365 852.5h4M198 853.5h1M206 853.5h1M212 853.5h1M220 853.5h1M230 853.5h2M237 853.5h4M263 853.5h1M267 853.5h2M283 853.5h2M299 853.5h1M467 853.5h1M487 853.5h1M506 853.5h1M518 853.5h1M527 853.5h6M572 853.5h1M606 853.5h1M613 853.5h2M942 853.5h2M961 853.5h1M973 853.5h1M1069 853.5h1M1096 853.5h2M1175 853.5h1M1178 853.5h3M1191 853.5h2M1260 853.5h1M1270 853.5h1M1276 853.5h2M1369 853.5h2M198 854.5h1M206 854.5h1M213 854.5h2M219 854.5h1M232 854.5h5M263 854.5h1M265 854.5h2M285 854.5h1M298 854.5h1M467 854.5h1M486 854.5h1M507 854.5h2M517 854.5h1M572 854.5h1M605 854.5h1M615 854.5h3M807 854.5h2M940 854.5h2M962 854.5h1M972 854.5h1M1070 854.5h1M1095 854.5h1M1176 854.5h2M1193 854.5h2M1259 854.5h1M1271 854.5h1M1274 854.5h2M1371 854.5h2M198 855.5h1M205 855.5h1M215 855.5h1M217 855.5h2M264 855.5h1M286 855.5h1M298 855.5h1M467 855.5h1M486 855.5h1M509 855.5h1M515 855.5h2M573 855.5h1M604 855.5h1M618 855.5h2M803 855.5h4M809 855.5h1M901 855.5h8M938 855.5h2M963 855.5h1M971 855.5h1M1070 855.5h1M1094 855.5h1M1195 855.5h2M1258 855.5h1M1272 855.5h2M1373 855.5h1M199 856.5h1M204 856.5h1M216 856.5h1M287 856.5h1M297 856.5h1M468 856.5h1M485 856.5h1M510 856.5h1M514 856.5h1M573 856.5h1M603 856.5h1M620 856.5h2M800 856.5h3M809 856.5h1M895 856.5h6M909 856.5h5M936 856.5h2M964 856.5h1M971 856.5h1M1071 856.5h1M1079 856.5h3M1093 856.5h1M1197 856.5h1M1258 856.5h1M1374 856.5h2M199 857.5h1M204 857.5h1M288 857.5h3M297 857.5h1M468 857.5h1M484 857.5h1M511 857.5h1M513 857.5h1M573 857.5h1M602 857.5h1M622 857.5h2M800 857.5h1M810 857.5h1M879 857.5h4M893 857.5h2M914 857.5h3M935 857.5h1M965 857.5h1M970 857.5h1M1071 857.5h1M1077 857.5h2M1082 857.5h2M1091 857.5h2M1198 857.5h2M1257 857.5h1M1376 857.5h1M199 858.5h1M203 858.5h1M291 858.5h4M296 858.5h1M468 858.5h1M484 858.5h1M512 858.5h1M573 858.5h1M601 858.5h1M624 858.5h1M799 858.5h1M810 858.5h1M877 858.5h2M883 858.5h4M890 858.5h3M917 858.5h2M934 858.5h1M966 858.5h1M969 858.5h1M1072 858.5h1M1074 858.5h3M1084 858.5h2M1090 858.5h1M1200 858.5h2M1257 858.5h1M1377 858.5h1M199 859.5h1M202 859.5h1M295 859.5h2M469 859.5h1M483 859.5h1M573 859.5h1M600 859.5h1M625 859.5h1M799 859.5h1M811 859.5h1M874 859.5h3M887 859.5h3M919 859.5h2M933 859.5h1M967 859.5h1M969 859.5h1M1072 859.5h2M1086 859.5h2M1089 859.5h1M1202 859.5h3M1256 859.5h1M1378 859.5h1M199 860.5h1M202 860.5h1M469 860.5h1M482 860.5h1M574 860.5h1M599 860.5h1M625 860.5h1M799 860.5h1M812 860.5h1M872 860.5h2M921 860.5h2M932 860.5h1M968 860.5h1M1088 860.5h1M1205 860.5h2M1255 860.5h1M1378 860.5h1M200 861.5h2M469 861.5h1M482 861.5h1M574 861.5h1M599 861.5h1M626 861.5h1M798 861.5h1M812 861.5h1M872 861.5h1M923 861.5h2M931 861.5h1M1207 861.5h2M1255 861.5h1M1379 861.5h1M200 862.5h2M470 862.5h1M481 862.5h1M574 862.5h1M598 862.5h1M627 862.5h1M798 862.5h1M813 862.5h1M871 862.5h1M925 862.5h1M930 862.5h1M1208 862.5h1M1254 862.5h1M1380 862.5h1M200 863.5h1M470 863.5h1M481 863.5h1M574 863.5h1M597 863.5h1M628 863.5h1M798 863.5h1M814 863.5h1M871 863.5h1M926 863.5h2M929 863.5h1M1209 863.5h1M1254 863.5h1M1381 863.5h1M470 864.5h1M480 864.5h1M574 864.5h1M597 864.5h1M628 864.5h1M797 864.5h1M814 864.5h1M823 864.5h2M870 864.5h1M928 864.5h1M1209 864.5h1M1253 864.5h1M1382 864.5h1M471 865.5h1M478 865.5h2M575 865.5h1M596 865.5h1M629 865.5h1M797 865.5h1M815 865.5h1M821 865.5h2M825 865.5h2M870 865.5h1M1210 865.5h1M1253 865.5h1M1382 865.5h1M471 866.5h1M477 866.5h1M575 866.5h1M595 866.5h1M630 866.5h1M797 866.5h1M815 866.5h1M818 866.5h3M827 866.5h2M869 866.5h1M1210 866.5h1M1252 866.5h1M1383 866.5h1M471 867.5h1M475 867.5h2M575 867.5h1M595 867.5h1M631 867.5h1M796 867.5h1M816 867.5h2M829 867.5h1M869 867.5h1M1211 867.5h1M1251 867.5h1M1384 867.5h1M472 868.5h3M575 868.5h1M594 868.5h1M631 868.5h1M784 868.5h1M796 868.5h1M830 868.5h2M869 868.5h1M1211 868.5h1M1251 868.5h1M472 869.5h1M575 869.5h1M593 869.5h1M632 869.5h3M783 869.5h1M785 869.5h1M795 869.5h1M832 869.5h1M868 869.5h1M1212 869.5h1M1250 869.5h1M575 870.5h1M593 870.5h1M635 870.5h4M768 870.5h1M782 870.5h1M785 870.5h1M795 870.5h1M833 870.5h1M868 870.5h1M1212 870.5h1M1250 870.5h1M576 871.5h1M592 871.5h1M639 871.5h2M767 871.5h1M769 871.5h2M781 871.5h1M786 871.5h1M795 871.5h1M834 871.5h1M867 871.5h1M1212 871.5h1M1249 871.5h1M576 872.5h1M591 872.5h1M641 872.5h1M765 872.5h2M771 872.5h1M780 872.5h1M787 872.5h1M794 872.5h1M835 872.5h1M867 872.5h1M1213 872.5h1M1249 872.5h1M576 873.5h1M590 873.5h1M642 873.5h1M764 873.5h1M772 873.5h1M779 873.5h1M788 873.5h1M794 873.5h1M836 873.5h1M848 873.5h1M867 873.5h1M1213 873.5h1M1248 873.5h1M577 874.5h2M589 874.5h1M642 874.5h1M763 874.5h1M773 874.5h2M778 874.5h1M788 874.5h1M794 874.5h1M836 874.5h1M846 874.5h2M849 874.5h2M866 874.5h1M1214 874.5h1M1246 874.5h2M579 875.5h1M588 875.5h1M643 875.5h1M761 875.5h2M775 875.5h1M777 875.5h1M789 875.5h1M793 875.5h1M837 875.5h1M845 875.5h1M851 875.5h2M866 875.5h1M1214 875.5h1M1224 875.5h1M1245 875.5h1M580 876.5h1M587 876.5h1M644 876.5h1M752 876.5h9M776 876.5h1M790 876.5h1M793 876.5h1M838 876.5h1M843 876.5h2M853 876.5h1M865 876.5h1M1215 876.5h1M1222 876.5h2M1225 876.5h1M1243 876.5h2M581 877.5h2M586 877.5h1M645 877.5h1M752 877.5h1M791 877.5h1M793 877.5h1M839 877.5h1M841 877.5h2M854 877.5h2M865 877.5h1M1215 877.5h1M1220 877.5h2M1226 877.5h1M1241 877.5h2M583 878.5h1M585 878.5h1M646 878.5h1M664 878.5h3M704 878.5h3M751 878.5h1M791 878.5h2M840 878.5h1M856 878.5h5M864 878.5h1M1216 878.5h1M1218 878.5h2M1227 878.5h1M1240 878.5h1M584 879.5h1M646 879.5h1M663 879.5h1M667 879.5h4M703 879.5h1M707 879.5h4M751 879.5h1M792 879.5h1M861 879.5h4M1216 879.5h2M1228 879.5h1M1239 879.5h1M647 880.5h1M662 880.5h1M671 880.5h4M702 880.5h1M711 880.5h6M750 880.5h1M1228 880.5h1M1237 880.5h2M648 881.5h1M661 881.5h1M675 881.5h4M701 881.5h1M717 881.5h4M750 881.5h1M1229 881.5h1M1236 881.5h1M649 882.5h2M660 882.5h1M679 882.5h6M699 882.5h2M721 882.5h2M749 882.5h1M1230 882.5h1M1235 882.5h1M651 883.5h2M659 883.5h1M685 883.5h6M698 883.5h1M723 883.5h2M749 883.5h1M1231 883.5h1M1233 883.5h2M653 884.5h1M658 884.5h1M691 884.5h4M697 884.5h1M725 884.5h1M749 884.5h1M1232 884.5h1M654 885.5h2M657 885.5h1M695 885.5h2M726 885.5h2M748 885.5h1M656 886.5h1M728 886.5h3M748 886.5h1M731 887.5h4M747 887.5h1M735 888.5h2M747 888.5h1M737 889.5h1M747 889.5h1M738 890.5h1M746 890.5h1M739 891.5h2M746 891.5h1M741 892.5h1M745 892.5h1M742 893.5h1M745 893.5h1M743 894.5h2M744 895.5h1" stroke="#1e90ff" stroke-width="1" fill="none" />
<rect x="1629" y="771" width="1" height="1" fill="#000" />
<rect x="1629" y="802" width="1" height="1" fill="#000" />
<rect x="1629" y="849" width="1" height="1" fill="#000" />
<rect x="1629" y="906" width="1" height="1" fill="#000" />
<rect x="1629" y="922" width="1" height="1" fill="#000" />
<rect x="1629" y="928" width="1" height="1" fill="#000" />
</g>
<text x="1632.5" y="779.8" font-size="10.3" fill="#000" textLength="14.7" lengthAdjust="spacingAndGlyphs" >100</text>
<text x="1632.5" y="806.0" font-size="10.3" fill="#000" textLength="9.8" lengthAdjust="spacingAndGlyphs" >80</text>
<text x="1632.5" y="853.0" font-size="10.3" fill="#000" textLength="9.8" lengthAdjust="spacingAndGlyphs" >50</text>
<text x="1632.5" y="909.5" font-size="10.3" fill="#000" textLength="9.8" lengthAdjust="spacingAndGlyphs" >15</text>
<text x="1632.5" y="926.0" font-size="10.3" fill="#000" textLength="4.9" lengthAdjust="spacingAndGlyphs" >0</text>
<text x="4" y="781.7" font-size="10.3" fill="#000" textLength="68" lengthAdjust="spacingAndGlyphs" >RSI(14) 38.7386</text>
<g shape-rendering="crispEdges">
<rect x="0" y="929" width="1" height="4" fill="#000" />
<rect x="64" y="929" width="1" height="4" fill="#000" />
<rect x="128" y="929" width="1" height="4" fill="#000" />
<rect x="192" y="929" width="1" height="4" fill="#000" />
<rect x="256" y="929" width="1" height="4" fill="#000" />
<rect x="320" y="929" width="1" height="4" fill="#000" />
<rect x="384" y="929" width="1" height="4" fill="#000" />
<rect x="448" y="929" width="1" height="4" fill="#000" />
<rect x="512" y="929" width="1" height="4" fill="#000" />
<rect x="576" y="929" width="1" height="4" fill="#000" />
<rect x="640" y="929" width="1" height="4" fill="#000" />
<rect x="704" y="929" width="1" height="4" fill="#000" />
<rect x="768" y="929" width="1" height="4" fill="#000" />
<rect x="832" y="929" width="1" height="4" fill="#000" />
<rect x="896" y="929" width="1" height="4" fill="#000" />
<rect x="960" y="929" width="1" height="4" fill="#000" />
<rect x="1024" y="929" width="1" height="4" fill="#000" />
<rect x="1088" y="929" width="1" height="4" fill="#000" />
<rect x="1152" y="929" width="1" height="4" fill="#000" />
<rect x="1216" y="929" width="1" height="4" fill="#000" />
<rect x="1280" y="929" width="1" height="4" fill="#000" />
<rect x="1344" y="929" width="1" height="4" fill="#000" />
</g>
<text x="0.6" y="941.7" font-size="10.3" fill="#000" textLength="50.2" lengthAdjust="spacingAndGlyphs" >17 Apr 2019</text>
<text x="63.4" y="941.7" font-size="10.3" fill="#000" textLength="53.5" lengthAdjust="spacingAndGlyphs" >19 Apr 04:00</text>
<text x="127.4" y="941.7" font-size="10.3" fill="#000" textLength="53.5" lengthAdjust="spacingAndGlyphs" >22 Apr 14:55</text>
<text x="191.4" y="941.7" font-size="10.3" fill="#000" textLength="53.5" lengthAdjust="spacingAndGlyphs" >23 Apr 23:30</text>
<text x="255.4" y="941.7" font-size="10.3" fill="#000" textLength="53.5" lengthAdjust="spacingAndGlyphs" >25 Apr 04:00</text>
<text x="319.4" y="941.7" font-size="10.3" fill="#000" textLength="53.5" lengthAdjust="spacingAndGlyphs" >26 Apr 14:55</text>
<text x="383.4" y="941.7" font-size="10.3" fill="#000" textLength="53.5" lengthAdjust="spacingAndGlyphs" >29 Apr 23:30</text>
<text x="447.4" y="941.7" font-size="10.3" fill="#000" textLength="51.6" lengthAdjust="spacingAndGlyphs" >1 May 04:00</text>
<text x="511.4" y="941.7" font-size="10.3" fill="#000" textLength="51.6" lengthAdjust="spacingAndGlyphs" >2 May 14:55</text>
<text x="575.4" y="941.7" font-size="10.3" fill="#000" textLength="51.6" lengthAdjust="spacingAndGlyphs" >5 May 23:30</text>
<text x="639.4" y="941.7" font-size="10.3" fill="#000" textLength="51.6" lengthAdjust="spacingAndGlyphs" >7 May 04:00</text>
<text x="703.4" y="941.7" font-size="10.3" fill="#000" textLength="51.6" lengthAdjust="spacingAndGlyphs" >8 May 14:55</text>
<text x="767.4" y="941.7" font-size="10.3" fill="#000" textLength="51.6" lengthAdjust="spacingAndGlyphs" >9 May 23:30</text>
<text x="831.4" y="941.7" font-size="10.3" fill="#000" textLength="56.6" lengthAdjust="spacingAndGlyphs" >13 May 04:00</text>
<text x="895.4" y="941.7" font-size="10.3" fill="#000" textLength="56.6" lengthAdjust="spacingAndGlyphs" >14 May 14:55</text>
<text x="959.4" y="941.7" font-size="10.3" fill="#000" textLength="56.6" lengthAdjust="spacingAndGlyphs" >15 May 23:30</text>
<text x="1023.4" y="941.7" font-size="10.3" fill="#000" textLength="56.6" lengthAdjust="spacingAndGlyphs" >17 May 04:00</text>
<text x="1087.4" y="941.7" font-size="10.3" fill="#000" textLength="56.6" lengthAdjust="spacingAndGlyphs" >20 May 14:55</text>
<text x="1151.4" y="941.7" font-size="10.3" fill="#000" textLength="56.6" lengthAdjust="spacingAndGlyphs" >21 May 23:30</text>
<text x="1215.4" y="941.7" font-size="10.3" fill="#000" textLength="56.6" lengthAdjust="spacingAndGlyphs" >23 May 04:00</text>
<text x="1279.4" y="941.7" font-size="10.3" fill="#000" textLength="56.6" lengthAdjust="spacingAndGlyphs" >24 May 14:55</text>
<text x="1343.4" y="941.7" font-size="10.3" fill="#000" textLength="56.6" lengthAdjust="spacingAndGlyphs" >27 May 23:30</text>
<polygon points="3,40.5 10.5,40.5 6.75,36" fill="#000"/>
<text x="14.8" y="41.2" font-size="10.3" fill="#000" textLength="197.3" lengthAdjust="spacingAndGlyphs" >JPN225-,H4  21077.5 21087.5 20975.0 20975.0</text>
<defs>
<linearGradient id="gt" x1="0" y1="0" x2="0" y2="1"><stop offset="0" stop-color="#f45353"/><stop offset="1" stop-color="#d93434"/></linearGradient>
<linearGradient id="gb" x1="0" y1="0" x2="0" y2="1"><stop offset="0" stop-color="#d93030"/><stop offset="0.55" stop-color="#c81c1c"/><stop offset="1" stop-color="#ab0000"/></linearGradient>
<linearGradient id="gbu" gradientUnits="userSpaceOnUse" x1="0" y1="74" x2="0" y2="112"><stop offset="0" stop-color="#d93030"/><stop offset="0.55" stop-color="#c81c1c"/><stop offset="1" stop-color="#ab0000"/></linearGradient>
<linearGradient id="gtu" gradientUnits="userSpaceOnUse" x1="0" y1="50" x2="0" y2="73"><stop offset="0" stop-color="#f45353"/><stop offset="1" stop-color="#d93434"/></linearGradient>
<linearGradient id="gbtn" x1="0" y1="0" x2="0" y2="1"><stop offset="0" stop-color="#f4f4f4"/><stop offset="1" stop-color="#dcdcdc"/></linearGradient>
</defs>
<g shape-rendering="crispEdges">
<rect x="1" y="47" width="223" height="68" fill="#fff" />
<rect x="3" y="49" width="52" height="25" fill="#c00000" />
<rect x="170" y="49" width="52" height="25" fill="#c00000" />
<rect x="3" y="73" width="109" height="40" fill="#c00000" />
<rect x="114" y="73" width="108" height="40" fill="#c00000" />
<rect x="4" y="50" width="50" height="23" fill="url(#gt)" />
<rect x="171" y="50" width="50" height="23" fill="url(#gt)" />
<rect x="4" y="74" width="107" height="38" fill="url(#gb)" />
<rect x="115" y="74" width="106" height="38" fill="url(#gb)" />
<rect x="4" y="73" width="50" height="1" fill="#e03636" />
<rect x="171" y="73" width="50" height="1" fill="#e03636" />
<rect x="7" y="72" width="44" height="1" fill="#8a0000" />
<rect x="7" y="73" width="44" height="1" fill="#f86060" />
<rect x="174" y="72" width="44" height="1" fill="#8a0000" />
<rect x="174" y="73" width="44" height="1" fill="#f86060" />
<rect x="57" y="49" width="111" height="22" fill="#a9a9a9" />
<rect x="58" y="50" width="109" height="20" fill="#fff" />
<rect x="58" y="50" width="20" height="20" fill="#e9e9e9" />
<rect x="147" y="50" width="20" height="20" fill="#e9e9e9" />
<rect x="78" y="50" width="1" height="20" fill="#a9a9a9" />
<rect x="146" y="50" width="1" height="20" fill="#a9a9a9" />
</g>
<polygon points="64.5,58.5 70.5,58.5 67.5,61.5" fill="#000"/>
<polygon points="153.5,61.5 159.5,61.5 156.5,58.5" fill="#000"/>
<text x="143" y="64.2" font-size="12" fill="#222" text-anchor="end" textLength="23" lengthAdjust="spacingAndGlyphs" >1.00</text>
<text x="15.3" y="65" font-size="12.6" fill="#fff" textLength="25.6" lengthAdjust="spacingAndGlyphs" >SELL</text>
<text x="183.7" y="65" font-size="12.6" fill="#fff" textLength="22.5" lengthAdjust="spacingAndGlyphs" >BUY</text>
<text x="19.2" y="103.8" font-size="12" fill="#fff" textLength="34.6" lengthAdjust="spacingAndGlyphs" font-weight="bold" >20973</text>
<text x="129.3" y="103.8" font-size="12" fill="#fff" textLength="34.6" lengthAdjust="spacingAndGlyphs" font-weight="bold" >20996</text>
<text x="57.5" y="103.8" font-size="32" fill="#fff" >.</text>
<text x="64.5" y="103.8" font-size="32" fill="#fff" stroke="url(#gbu)" stroke-width="0.8">5</text>
<text x="168.7" y="103.8" font-size="32" fill="#fff" >.</text>
<text x="175.7" y="103.8" font-size="32" fill="#fff" stroke="url(#gbu)" stroke-width="0.8">5</text>
<g shape-rendering="crispEdges">
<rect x="0" y="0" width="1675" height="25" fill="#f0f0f0" />
<rect x="0" y="25" width="1675" height="1" fill="#b4b4b4" />
<rect x="0" y="26" width="1675" height="1" fill="#7a7a7a" />
<rect x="0" y="27" width="1675" height="2" fill="#fff" />
<rect x="1674" y="27" width="1" height="926" fill="#f0f0f0" />
</g>
<g><path d="M-0.5,5.5H7L10.5,9V17.5H-0.5Z" fill="#fcfcfc" stroke="#9a9a9a" stroke-width="1"/><path d="M7,5.5V9H10.5" fill="#e4e4e4" stroke="#9a9a9a" stroke-width="0.8"/><path d="M1,8.5H5M1,11H7M1,13.5H5" stroke="#a8a8a8" stroke-width="1"/><path d="M9.1,12V23M3.5,17.4H14.8" stroke="#138a13" stroke-width="4.4"/><path d="M9.1,13V22M4.5,17.4H13.8" stroke="#2fe02f" stroke-width="2.4"/></g>
<text x="18" y="15.8" font-size="12" fill="#000" stroke="#000" stroke-width="0.2" textLength="36" lengthAdjust="spacingAndGlyphs">新订单</text>
<defs><linearGradient id="gbk" x1="0" y1="0" x2="1" y2="1"><stop offset="0" stop-color="#fbe070"/><stop offset="0.5" stop-color="#eebc2c"/><stop offset="1" stop-color="#c88a10"/></linearGradient></defs>
<g><path d="M66.5,14.5L70.5,6.5L81.5,13L73.5,20.5Z" fill="url(#gbk)" stroke="#8f5e0e" stroke-width="1"/><path d="M70.8,8.2L79.5,13.2L73.4,18.8" fill="none" stroke="#fff2b0" stroke-width="0.8" opacity="0.8"/><path d="M73.5,20.5L81.5,13L81.8,14.6L74,21.6L66.3,15.8L66.5,14.5Z" fill="#e9c56a" stroke="#8f5e0e" stroke-width="0.7"/></g>
<g><path d="M96.5,7L101,5L107,6.5V13.5L101,15.5L96.5,13.5Z" fill="#55a8f5" stroke="#2a6fd0" stroke-width="0.8"/><path d="M96.5,7L100.5,8.5V15L96.5,13.5Z" fill="#1e78e0"/><path d="M102,9L106,8.2M102,11L106,10.2" stroke="#e8f4ff" stroke-width="0.9"/><path d="M96.5,20.5C93,20.5 93,16.3 96.3,16.3C96.8,13.6 100.5,13.3 101.8,15.3C103.6,13.6 107.6,14.6 107.2,17.2C110.6,17.2 110.6,20.5 107.6,20.5Z" fill="#eef4fc" stroke="#5a82c4" stroke-width="0.9"/></g>
<g fill="none"><path d="M130,13L137.5,10.5A8,8 0 0 1 130,21Z" fill="#58b058" opacity="0.85"/><path d="M130,13L135,11A5.4,5.4 0 0 1 130,18.4Z" fill="#9fd49f"/><circle cx="130" cy="13" r="7.4" stroke="#b4c6ea" stroke-width="1.3" stroke-dasharray="14 2"/><circle cx="130" cy="13" r="5" stroke="#86a4dc" stroke-width="1.3"/><circle cx="130" cy="13" r="2.9" stroke="#5a82d0" stroke-width="1.1"/><circle cx="130" cy="12.8" r="1.5" fill="#2350c0"/><path d="M130.3,13V21" stroke="#2a9a2a" stroke-width="1.5"/></g>
<g><path d="M150.3,11.5L157.5,20.8L164,12Z" fill="#f6d24c" stroke="#c09218" stroke-width="0.8"/><path d="M152,12.5L157.4,19.4" stroke="#fff0a0" stroke-width="1"/><ellipse cx="157.2" cy="9.6" rx="7.6" ry="2.6" fill="#4f9fe2" stroke="#2a72c0" stroke-width="0.8"/><path d="M153,9.2C153,4.2 161.4,4.2 161.4,9.2Z" fill="#6ab6f0" stroke="#2a72c0" stroke-width="0.8"/><circle cx="161.6" cy="16.8" r="4.1" fill="#d82020" stroke="#a01010" stroke-width="0.6"/><rect x="160.1" y="15.3" width="3" height="3" fill="#fff"/></g>
<text x="170.6" y="15.8" font-size="11.8" fill="#000" stroke="#000" stroke-width="0.2" textLength="47.2" lengthAdjust="spacingAndGlyphs">自动交易</text>
<g shape-rendering="crispEdges">
<rect x="225" y="0" width="1" height="25" fill="#8f8f8f" />
<rect x="226" y="0" width="1" height="25" fill="#ffffff" />
</g>
<g shape-rendering="crispEdges">
<rect x="229" y="3" width="3" height="1" fill="#b0b0b0" />
<rect x="229" y="5" width="3" height="1" fill="#b0b0b0" />
<rect x="229" y="7" width="3" height="1" fill="#b0b0b0" />
<rect x="229" y="9" width="3" height="1" fill="#b0b0b0" />
<rect x="229" y="11" width="3" height="1" fill="#b0b0b0" />
<rect x="229" y="13" width="3" height="1" fill="#b0b0b0" />
<rect x="229" y="15" width="3" height="1" fill="#b0b0b0" />
<rect x="229" y="17" width="3" height="1" fill="#b0b0b0" />
<rect x="229" y="19" width="3" height="1" fill="#b0b0b0" />
<rect x="229" y="21" width="3" height="1" fill="#b0b0b0" />
</g>
<g shape-rendering="crispEdges" fill="#555"><rect x="243" y="8" width="1" height="13"/><rect x="241" y="18" width="11" height="1"/></g>
<polygon points="241.2,9.8 243.5,6.6 245.8,9.8" fill="#555"/><polygon points="251.8,16.3 254.8,18.5 251.8,20.7" fill="#555"/>
<path d="M249.5,8V16.8M249.5,9.8H252.5M247,15.7H249.5" stroke="#0a8a0a" stroke-width="1.3" fill="none"/>
<g shape-rendering="crispEdges">
<rect x="263" y="1" width="25" height="22" fill="#f8f8f8" />
<rect x="263" y="1" width="25" height="1" fill="#8c8c8c" />
<rect x="263" y="1" width="1" height="22" fill="#8c8c8c" />
<rect x="287" y="2" width="1" height="21" fill="#fff" />
<rect x="264" y="22" width="24" height="1" fill="#fff" />
</g>
<g shape-rendering="crispEdges" fill="#555"><rect x="271" y="8" width="1" height="13"/><rect x="269" y="18" width="11" height="1"/></g>
<polygon points="269.2,9.8 271.5,6.6 273.8,9.8" fill="#555"/><polygon points="279.8,16.3 282.8,18.5 279.8,20.7" fill="#555"/>
<defs><linearGradient id="gcd" x1="0" y1="0" x2="1" y2="0"><stop offset="0" stop-color="#18b018"/><stop offset="0.5" stop-color="#6cf06c"/><stop offset="1" stop-color="#18b018"/></linearGradient></defs>
<g shape-rendering="crispEdges"><rect x="277" y="5" width="1" height="12" fill="#0a7a0a"/><rect x="275" y="7" width="5" height="8" fill="#0a7a0a"/><rect x="276" y="8" width="3" height="6" fill="url(#gcd)"/></g>
<g shape-rendering="crispEdges" fill="#555"><rect x="299" y="8" width="1" height="13"/><rect x="297" y="18" width="11" height="1"/></g>
<polygon points="297.2,9.8 299.5,6.6 301.8,9.8" fill="#555"/><polygon points="307.8,16.3 310.8,18.5 307.8,20.7" fill="#555"/>
<path d="M298,15.8C300.5,14 302,10.3 304.2,10.3C306.3,10.3 307.5,13.4 310,14.2" stroke="#2a8a2a" stroke-width="1.2" fill="none"/>
<g shape-rendering="crispEdges">
<rect x="320" y="2" width="1" height="21" fill="#a0a0a0" />
</g>
<g><path d="M338.5,14.5L344,20" stroke="#b8912a" stroke-width="3" stroke-linecap="round"/><path d="M338.8,14.8L343.6,19.6" stroke="#f0d36a" stroke-width="1.2" stroke-linecap="round"/><circle cx="335" cy="11" r="5.3" fill="#d9ebfb" stroke="#3a7fd0" stroke-width="1.4"/>
<path d="M332,11H338" stroke="#2f6fc4" stroke-width="1.8"/>
<path d="M335,8V14" stroke="#2f6fc4" stroke-width="1.8"/>
</g>
<g><path d="M366.5,14.5L372,20" stroke="#b8912a" stroke-width="3" stroke-linecap="round"/><path d="M366.8,14.8L371.6,19.6" stroke="#f0d36a" stroke-width="1.2" stroke-linecap="round"/><circle cx="363" cy="11" r="5.3" fill="#d9ebfb" stroke="#3a7fd0" stroke-width="1.4"/>
<path d="M360,11H366" stroke="#2f6fc4" stroke-width="1.8"/>
</g>
<defs><linearGradient id="gtg" x1="0" y1="0" x2="0" y2="1"><stop offset="0" stop-color="#3a9a10"/><stop offset="1" stop-color="#62bb30"/></linearGradient><linearGradient id="gtb" x1="0" y1="0" x2="0" y2="1"><stop offset="0" stop-color="#1a48c8"/><stop offset="1" stop-color="#4a7cf0"/></linearGradient></defs>
<g shape-rendering="crispEdges">
<rect x="385" y="5" width="8" height="8" fill="url(#gtg)" />
<rect x="386" y="6" width="1" height="1" fill="#fff" />
<rect x="386" y="8" width="6" height="4" fill="#fff" />
<rect x="387" y="9" width="4" height="1" fill="#a8dc88" />
<rect x="387" y="11" width="4" height="1" fill="url(#gtg)" />
<rect x="393" y="5" width="8" height="8" fill="url(#gtb)" />
<rect x="394" y="6" width="1" height="1" fill="#fff" />
<rect x="394" y="8" width="6" height="4" fill="#fff" />
<rect x="395" y="9" width="4" height="1" fill="#9ab8f8" />
<rect x="395" y="11" width="4" height="1" fill="url(#gtb)" />
<rect x="385" y="13" width="8" height="8" fill="url(#gtb)" />
<rect x="386" y="14" width="1" height="1" fill="#fff" />
<rect x="386" y="16" width="6" height="4" fill="#fff" />
<rect x="387" y="17" width="4" height="1" fill="#9ab8f8" />
<rect x="387" y="19" width="4" height="1" fill="url(#gtb)" />
<rect x="393" y="13" width="8" height="8" fill="url(#gtg)" />
<rect x="394" y="14" width="1" height="1" fill="#fff" />
<rect x="394" y="16" width="6" height="4" fill="#fff" />
<rect x="395" y="17" width="4" height="1" fill="#a8dc88" />
<rect x="395" y="19" width="4" height="1" fill="url(#gtg)" />
</g>
<g shape-rendering="crispEdges">
<rect x="410" y="2" width="1" height="21" fill="#a0a0a0" />
</g>
<g shape-rendering="crispEdges">
<rect x="415" y="1" width="25" height="22" fill="#f8f8f8" />
<rect x="415" y="1" width="25" height="1" fill="#8c8c8c" />
<rect x="415" y="1" width="1" height="22" fill="#8c8c8c" />
<rect x="439" y="2" width="1" height="21" fill="#fff" />
<rect x="416" y="22" width="24" height="1" fill="#fff" />
</g>
<g shape-rendering="crispEdges" fill="#555"><rect x="423" y="8" width="1" height="13"/><rect x="421" y="18" width="11" height="1"/></g>
<polygon points="421.2,9.8 423.5,6.6 425.8,9.8" fill="#555"/><polygon points="431.8,16.3 434.8,18.5 431.8,20.7" fill="#555"/>
<polygon points="428.3,9.2 428.3,15.8 431.9,12.5" fill="#58dc58" stroke="#0f9a0f" stroke-width="0.9"/>
<g shape-rendering="crispEdges">
<rect x="443" y="1" width="25" height="22" fill="#f8f8f8" />
<rect x="443" y="1" width="25" height="1" fill="#8c8c8c" />
<rect x="443" y="1" width="1" height="22" fill="#8c8c8c" />
<rect x="467" y="2" width="1" height="21" fill="#fff" />
<rect x="444" y="22" width="24" height="1" fill="#fff" />
</g>
<g shape-rendering="crispEdges" fill="#555"><rect x="451" y="8" width="1" height="13"/><rect x="449" y="18" width="11" height="1"/></g>
<polygon points="449.2,9.8 451.5,6.6 453.8,9.8" fill="#555"/><polygon points="459.8,16.3 462.8,18.5 459.8,20.7" fill="#555"/>
<g shape-rendering="crispEdges"><rect x="457" y="7" width="1" height="10" fill="#1a7aa0"/></g><path d="M463,12.5H459M461.2,10.3L458.6,12.5L461.2,14.7" stroke="#d8500c" stroke-width="1.2" fill="none"/>
<g shape-rendering="crispEdges">
<rect x="472" y="2" width="1" height="21" fill="#a0a0a0" />
</g>
<g><path d="M482.5,6.5H489L492.5,10V18.5H482.5Z" fill="#fdfdfd" stroke="#8a8a8a"/><path d="M485.5,9.5V15.5M484.5,11H487" stroke="#555" stroke-width="0.9"/><path d="M492,12.5V22.5M487,17.5H497" stroke="#169a16" stroke-width="4.2"/><path d="M492,13.5V21.5M488,17.5H496" stroke="#3fd83f" stroke-width="2.2"/></g>
<polygon points="504.5,12 509.5,12 507.0,15" fill="#000"/>
<g><circle cx="528" cy="13" r="7.3" fill="#2a63c8" stroke="#163f94" stroke-width="0.8"/><circle cx="528" cy="13" r="5.2" fill="#f4f8ff"/><path d="M528,9.5V13.3H531" stroke="#333" stroke-width="1" fill="none"/></g>
<polygon points="543,12 548,12 545.5,15" fill="#000"/>
<g shape-rendering="crispEdges"><rect x="559" y="6" width="16" height="14" fill="#fff" stroke="#3a78c8"/><rect x="559" y="6" width="16" height="2" fill="#3a78c8"/><rect x="560" y="13" width="14" height="1" fill="#8ab0e0"/></g><path d="M561,11.5L564,10.5L566,11.5L569,9.5L573,10" stroke="#b03020" stroke-width="1.1" fill="none"/><path d="M561,18L564,16L566,17.5L569,15.5L572.5,17.5" stroke="#2a9a2a" stroke-width="1.1" fill="none"/>
<polygon points="582,12 587,12 584.5,15" fill="#000"/>
<g shape-rendering="crispEdges">
<rect x="593" y="0" width="1" height="25" fill="#8f8f8f" />
<rect x="594" y="0" width="1" height="25" fill="#ffffff" />
</g>
<g shape-rendering="crispEdges">
<rect x="597" y="3" width="3" height="1" fill="#b0b0b0" />
<rect x="597" y="5" width="3" height="1" fill="#b0b0b0" />
<rect x="597" y="7" width="3" height="1" fill="#b0b0b0" />
<rect x="597" y="9" width="3" height="1" fill="#b0b0b0" />
<rect x="597" y="11" width="3" height="1" fill="#b0b0b0" />
<rect x="597" y="13" width="3" height="1" fill="#b0b0b0" />
<rect x="597" y="15" width="3" height="1" fill="#b0b0b0" />
<rect x="597" y="17" width="3" height="1" fill="#b0b0b0" />
<rect x="597" y="19" width="3" height="1" fill="#b0b0b0" />
<rect x="597" y="21" width="3" height="1" fill="#b0b0b0" />
</g>
<g shape-rendering="crispEdges">
<rect x="603" y="1" width="25" height="22" fill="#f8f8f8" />
<rect x="603" y="1" width="25" height="1" fill="#8c8c8c" />
<rect x="603" y="1" width="1" height="22" fill="#8c8c8c" />
<rect x="627" y="2" width="1" height="21" fill="#fff" />
<rect x="604" y="22" width="24" height="1" fill="#fff" />
</g>
<path d="M611,6V17L613.6,14.6L616,19.8L617.9,19L615.6,14L619.2,13.6Z" fill="#4a4a4a"/>
<g shape-rendering="crispEdges" fill="#4a4a4a"><rect x="636" y="13" width="7" height="1"/><rect x="644" y="13" width="7" height="1"/><rect x="643" y="6" width="1" height="7"/><rect x="643" y="14" width="1" height="7"/></g>
<g shape-rendering="crispEdges">
<rect x="660" y="2" width="1" height="21" fill="#a0a0a0" />
</g>
<g shape-rendering="crispEdges" fill="#4a4a4a"><rect x="677" y="7" width="1" height="13"/><rect x="700" y="13" width="12" height="1"/></g>
<path d="M728,19.5L740,8" stroke="#4a4a4a" stroke-width="1.1"/>
<g stroke="#4a4a4a" stroke-width="0.9" fill="none"><path d="M753.8,15.8L767.4,6.4M755,19.3L768,10.7M758,11L757,19.5M762,8.5L760.5,17.5M766,5.5L765,14"/></g>
<text x="764" y="21.5" font-size="6.5" fill="#333" font-weight="bold" >E</text>
<g shape-rendering="crispEdges">
<line x1="783" x2="796" y1="6.5" y2="6.5" stroke="#4a4a4a" stroke-dasharray="1,1"/>
<line x1="783" x2="796" y1="9.5" y2="9.5" stroke="#4a4a4a" stroke-dasharray="1,1"/>
<line x1="783" x2="796" y1="13.5" y2="13.5" stroke="#4a4a4a" stroke-dasharray="1,1"/>
<line x1="783" x2="796" y1="17.5" y2="17.5" stroke="#4a4a4a" stroke-dasharray="1,1"/>
</g>
<text x="792.5" y="21.5" font-size="6.5" fill="#333" font-weight="bold" >F</text>
<text x="813.2" y="18" font-size="12" fill="#4a4a4a" textLength="8.5" lengthAdjust="spacingAndGlyphs" >A</text>
<rect x="840" y="6.5" width="12" height="13" fill="none" stroke="#4a4a4a" stroke-dasharray="1,1" shape-rendering="crispEdges"/>
<text x="842.2" y="17.8" font-size="11" fill="#4a4a4a" font-weight="bold" >T</text>
<g fill="#3a3a3a"><polygon points="867.5,10 871,6.5 874.5,10 871,12"/><polygon points="873.5,17.5 877,15.5 880.5,17.5 877,20.5"/><path d="M869.5,13L871.5,15.5L875,12" stroke="#3a3a3a" stroke-width="1.2" fill="none"/></g>
<polygon points="888,12 893,12 890.5,15" fill="#000"/>
<g shape-rendering="crispEdges">
<rect x="899" y="0" width="1" height="25" fill="#8f8f8f" />
<rect x="900" y="0" width="1" height="25" fill="#ffffff" />
</g>
<g shape-rendering="crispEdges">
<rect x="903" y="3" width="3" height="1" fill="#b0b0b0" />
<rect x="903" y="5" width="3" height="1" fill="#b0b0b0" />
<rect x="903" y="7" width="3" height="1" fill="#b0b0b0" />
<rect x="903" y="9" width="3" height="1" fill="#b0b0b0" />
<rect x="903" y="11" width="3" height="1" fill="#b0b0b0" />
<rect x="903" y="13" width="3" height="1" fill="#b0b0b0" />
<rect x="903" y="15" width="3" height="1" fill="#b0b0b0" />
<rect x="903" y="17" width="3" height="1" fill="#b0b0b0" />
<rect x="903" y="19" width="3" height="1" fill="#b0b0b0" />
<rect x="903" y="21" width="3" height="1" fill="#b0b0b0" />
</g>
<g shape-rendering="crispEdges">
<rect x="1049" y="1" width="25" height="22" fill="#f8f8f8" />
<rect x="1049" y="1" width="25" height="1" fill="#8c8c8c" />
<rect x="1049" y="1" width="1" height="22" fill="#8c8c8c" />
<rect x="1073" y="2" width="1" height="21" fill="#fff" />
<rect x="1050" y="22" width="24" height="1" fill="#fff" />
</g>
<text x="914.75" y="16.9" font-size="10.5" fill="#3c3c3c" textLength="12.5" lengthAdjust="spacingAndGlyphs" >M1</text>
<text x="942.65" y="16.9" font-size="10.5" fill="#3c3c3c" textLength="12.7" lengthAdjust="spacingAndGlyphs" >M5</text>
<text x="968.3000000000001" y="16.9" font-size="10.5" fill="#3c3c3c" textLength="17.8" lengthAdjust="spacingAndGlyphs" >M15</text>
<text x="996.55" y="16.9" font-size="10.5" fill="#3c3c3c" textLength="17.7" lengthAdjust="spacingAndGlyphs" >M30</text>
<text x="1027.85" y="16.9" font-size="10.5" fill="#3c3c3c" textLength="11.3" lengthAdjust="spacingAndGlyphs" >H1</text>
<text x="1054.8999999999999" y="16.9" font-size="10.5" fill="#3c3c3c" textLength="11.8" lengthAdjust="spacingAndGlyphs" >H4</text>
<text x="1083.6000000000001" y="16.9" font-size="10.5" fill="#3c3c3c" textLength="11.6" lengthAdjust="spacingAndGlyphs" >D1</text>
<text x="1111.0" y="16.9" font-size="10.5" fill="#3c3c3c" textLength="14" lengthAdjust="spacingAndGlyphs" >W1</text>
<text x="1137.55" y="16.9" font-size="10.5" fill="#3c3c3c" textLength="14.5" lengthAdjust="spacingAndGlyphs" >MN</text>
<g shape-rendering="crispEdges">
<rect x="1160" y="0" width="1" height="25" fill="#8f8f8f" />
<rect x="1161" y="0" width="1" height="25" fill="#ffffff" />
</g>
<g><path d="M1626.9,13.4L1623,17.7" stroke="#2a5fd0" stroke-width="2.6" stroke-linecap="round"/><circle cx="1630.7" cy="10.4" r="4" fill="#fbfbfb" stroke="#2a5fd0" stroke-width="1.3"/></g>
<g><path d="M1666,14L1667,17L1663.5,14.5Z" fill="#777"/><ellipse cx="1663.1" cy="10.1" rx="6.6" ry="4.6" fill="#f3f3f6" stroke="#8e8e8e" stroke-width="0.9"/><path d="M1651.5,17L1651.5,20L1654.5,17.5Z" fill="#777"/><ellipse cx="1654.4" cy="14" rx="5.1" ry="3.8" fill="#ececf0" stroke="#8e8e8e" stroke-width="0.9"/></g>
<g shape-rendering="crispEdges">
<rect x="0" y="950" width="1675" height="1" fill="#efefef" />
<rect x="0" y="951" width="1675" height="1" fill="#dedede" />
<rect x="0" y="952" width="154" height="1" fill="#000" />
<rect x="240" y="952" width="1435" height="1" fill="#000" />
</g>
</svg>
</body></html>
